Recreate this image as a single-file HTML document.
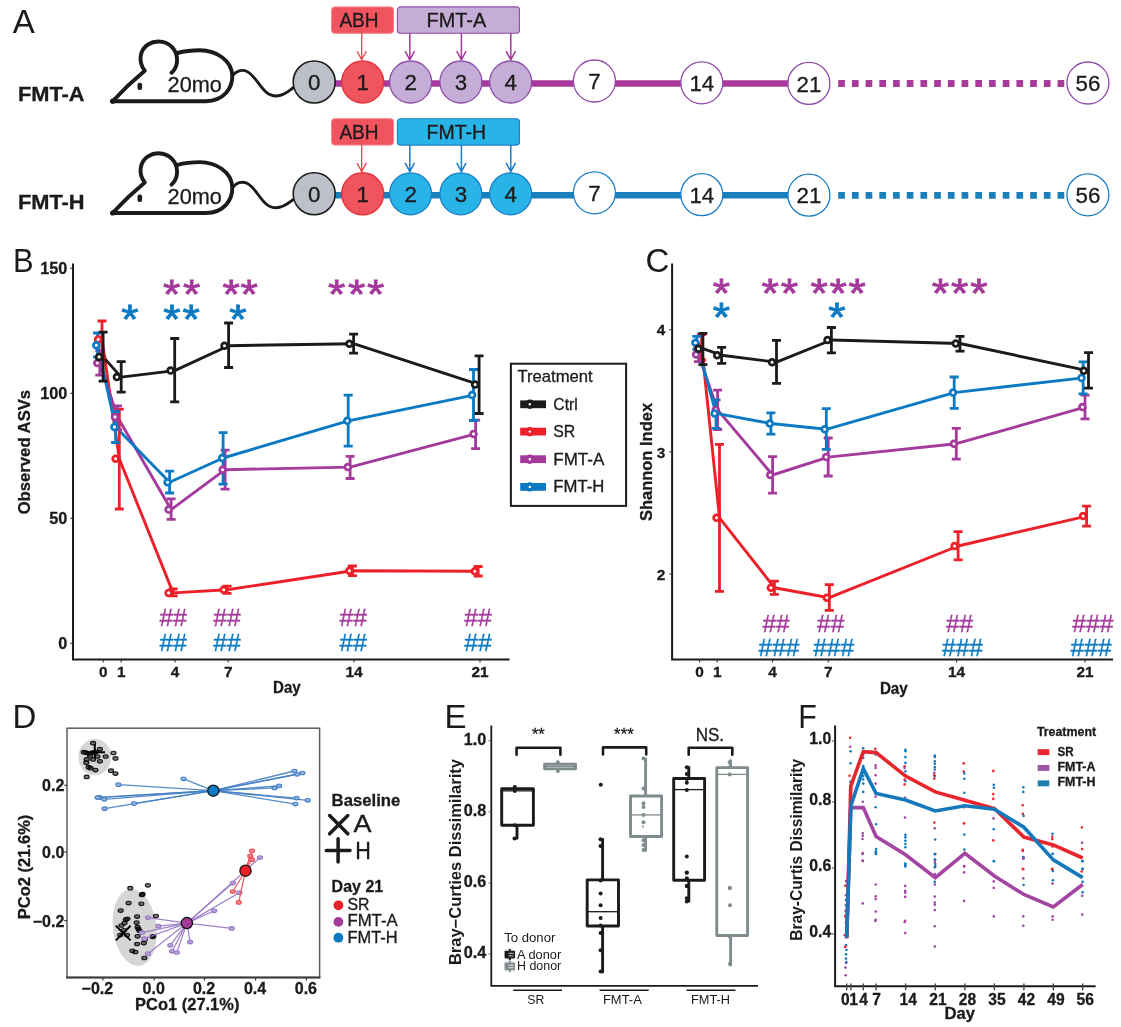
<!DOCTYPE html>
<html><head><meta charset="utf-8"><title>Figure</title>
<style>
html,body{margin:0;padding:0;background:#fff;}
svg{display:block;font-family:"Liberation Sans",sans-serif;}
.pl{stroke:none;}
</style></head><body>
<svg width="1121" height="1027" viewBox="0 0 1121 1027">
<rect width="1121" height="1027" fill="#fff"/>
<g id="panelA">
<text x="12.8" y="32.8" font-size="33" fill="#1c1a1b" class="pl">A</text>
<g transform="translate(0,0)">
<text x="17.9" y="100.9" font-size="19.5" fill="#1c1a1b" font-weight="bold" stroke="#1c1a1b" stroke-width="0.3" textLength="66.7" lengthAdjust="spacingAndGlyphs">FMT-A</text>
<g fill="none" stroke="#1c1a1b" stroke-width="3.9" stroke-linecap="round" stroke-linejoin="round">
<path d="M112.6,101.2 L206,101.2 C224,101 232.5,88 232.3,76 C232,60 216,50.5 200,50.3 C191,50.3 183,51.5 177.5,53"/>
<path d="M112.6,101.2 Q128,84.5 144.8,70.7 C138,62 139.5,50 148,44.5 C157,38.8 169,41.5 174.3,50 C179,58 177.5,67.5 171.5,72.8"/>
</g>
<path d="M232.3,76 C236,71 242,69 247,71.5 C258,77 262,96 276,96 C284,96 289,91 293.5,87.5" fill="none" stroke="#1c1a1b" stroke-width="2.9" stroke-linecap="round"/>
<rect x="137.5" y="82.7" width="4.6" height="7.4" rx="2" fill="#1c1a1b"/><circle cx="112.6" cy="101.2" r="2.6" fill="#1c1a1b"/>
<text x="167.6" y="92.4" font-size="22.6" fill="#1c1a1b" stroke="#1c1a1b" stroke-width="0.3" textLength="54.2" lengthAdjust="spacingAndGlyphs">20mo</text>
<line x1="330" y1="83.5" x2="810" y2="83.5" stroke="#a83a9c" stroke-width="6.6"/>
<line x1="838.2" y1="83.5" x2="1066" y2="83.5" stroke="#a83a9c" stroke-width="6.8" stroke-dasharray="6.7 7.01"/>
<rect x="331.6" y="6.9" width="62" height="26.4" rx="3" fill="#ef545f" stroke="#f4858c" stroke-width="1"/>
<rect x="397.4" y="6.9" width="122" height="26.4" rx="3" fill="#c4aed7" stroke="#8d4aa9" stroke-width="1.1"/>
<text x="339.4" y="26.8" font-size="19.3" fill="#1c1a1b" stroke="#1c1a1b" stroke-width="0.3" textLength="39.1" lengthAdjust="spacingAndGlyphs">ABH</text>
<text x="426.6" y="26.8" font-size="19.3" fill="#1c1a1b" stroke="#1c1a1b" stroke-width="0.3" textLength="59.6" lengthAdjust="spacingAndGlyphs">FMT-A</text>
<path d="M361.7,33.6 V59.6 M357.3,51.6 L361.7,59.8 L366.09999999999997,51.6" fill="none" stroke="#ea4650" stroke-width="1.3" stroke-linecap="round" stroke-linejoin="round"/>
<path d="M409.8,33.6 V59.6 M405.40000000000003,51.6 L409.8,59.8 L414.2,51.6" fill="none" stroke="#a43a9b" stroke-width="1.5" stroke-linecap="round" stroke-linejoin="round"/>
<path d="M461.4,33.6 V59.6 M457.0,51.6 L461.4,59.8 L465.79999999999995,51.6" fill="none" stroke="#a43a9b" stroke-width="1.5" stroke-linecap="round" stroke-linejoin="round"/>
<path d="M510.8,33.6 V59.6 M506.40000000000003,51.6 L510.8,59.8 L515.2,51.6" fill="none" stroke="#a43a9b" stroke-width="1.5" stroke-linecap="round" stroke-linejoin="round"/>
<circle cx="314.2" cy="82" r="21" fill="#bcc0c9" stroke="#1c1a1b" stroke-width="1.6"/>
<text x="314.2" y="90.1" font-size="22.3" fill="#1c1a1b" stroke="#1c1a1b" stroke-width="0.3" text-anchor="middle">0</text>
<circle cx="362.7" cy="82" r="21" fill="#ef545f" stroke="#e8323c" stroke-width="1.4"/>
<text x="362.7" y="90.1" font-size="22.3" fill="#1c1a1b" stroke="#1c1a1b" stroke-width="0.3" text-anchor="middle">1</text>
<circle cx="410.6" cy="82" r="21" fill="#c4aed7" stroke="#8d4aa9" stroke-width="1.3"/>
<text x="410.6" y="90.1" font-size="22.3" fill="#1c1a1b" stroke="#1c1a1b" stroke-width="0.3" text-anchor="middle">2</text>
<circle cx="460.9" cy="82" r="21" fill="#c4aed7" stroke="#8d4aa9" stroke-width="1.3"/>
<text x="460.9" y="90.1" font-size="22.3" fill="#1c1a1b" stroke="#1c1a1b" stroke-width="0.3" text-anchor="middle">3</text>
<circle cx="510.7" cy="82" r="21" fill="#c4aed7" stroke="#8d4aa9" stroke-width="1.3"/>
<text x="510.7" y="90.1" font-size="22.3" fill="#1c1a1b" stroke="#1c1a1b" stroke-width="0.3" text-anchor="middle">4</text>
<circle cx="594.4" cy="81" r="21" fill="#fff" stroke="#8d4aa9" stroke-width="1.3"/>
<text x="594.4" y="89.1" font-size="22.3" fill="#1c1a1b" stroke="#1c1a1b" stroke-width="0.3" text-anchor="middle">7</text>
<circle cx="701.8" cy="82.8" r="21" fill="#fff" stroke="#8d4aa9" stroke-width="1.3"/>
<text x="701.8" y="90.9" font-size="22.3" fill="#1c1a1b" stroke="#1c1a1b" stroke-width="0.3" text-anchor="middle">14</text>
<circle cx="808.9" cy="83.4" r="21" fill="#fff" stroke="#8d4aa9" stroke-width="1.3"/>
<text x="808.9" y="91.5" font-size="22.3" fill="#1c1a1b" stroke="#1c1a1b" stroke-width="0.3" text-anchor="middle">21</text>
<circle cx="1087.9" cy="83" r="21" fill="#fff" stroke="#8d4aa9" stroke-width="1.3"/>
<text x="1087.9" y="91.1" font-size="22.3" fill="#1c1a1b" stroke="#1c1a1b" stroke-width="0.3" text-anchor="middle">56</text>
</g>
<g transform="translate(0,111.8)">
<text x="17.9" y="97.7" font-size="19.5" fill="#1c1a1b" font-weight="bold" stroke="#1c1a1b" stroke-width="0.3" textLength="66.7" lengthAdjust="spacingAndGlyphs">FMT-H</text>
<g fill="none" stroke="#1c1a1b" stroke-width="3.9" stroke-linecap="round" stroke-linejoin="round">
<path d="M112.6,101.2 L206,101.2 C224,101 232.5,88 232.3,76 C232,60 216,50.5 200,50.3 C191,50.3 183,51.5 177.5,53"/>
<path d="M112.6,101.2 Q128,84.5 144.8,70.7 C138,62 139.5,50 148,44.5 C157,38.8 169,41.5 174.3,50 C179,58 177.5,67.5 171.5,72.8"/>
</g>
<path d="M232.3,76 C236,71 242,69 247,71.5 C258,77 262,96 276,96 C284,96 289,91 293.5,87.5" fill="none" stroke="#1c1a1b" stroke-width="2.9" stroke-linecap="round"/>
<rect x="137.5" y="82.7" width="4.6" height="7.4" rx="2" fill="#1c1a1b"/><circle cx="112.6" cy="101.2" r="2.6" fill="#1c1a1b"/>
<text x="167.6" y="92.4" font-size="22.6" fill="#1c1a1b" stroke="#1c1a1b" stroke-width="0.3" textLength="54.2" lengthAdjust="spacingAndGlyphs">20mo</text>
<line x1="330" y1="83.5" x2="810" y2="83.5" stroke="#1a80bb" stroke-width="6.6"/>
<line x1="838.2" y1="83.5" x2="1066" y2="83.5" stroke="#1a80bb" stroke-width="6.8" stroke-dasharray="6.7 7.01"/>
<rect x="331.6" y="6.9" width="62" height="26.4" rx="3" fill="#ef545f" stroke="#f4858c" stroke-width="1"/>
<rect x="397.4" y="6.9" width="122" height="26.4" rx="3" fill="#29b4e8" stroke="#1a7dc6" stroke-width="1.1"/>
<text x="339.4" y="26.8" font-size="19.3" fill="#1c1a1b" stroke="#1c1a1b" stroke-width="0.3" textLength="39.1" lengthAdjust="spacingAndGlyphs">ABH</text>
<text x="426.6" y="26.8" font-size="19.3" fill="#1c1a1b" stroke="#1c1a1b" stroke-width="0.3" textLength="59.6" lengthAdjust="spacingAndGlyphs">FMT-H</text>
<path d="M361.7,33.6 V59.6 M357.3,51.6 L361.7,59.8 L366.09999999999997,51.6" fill="none" stroke="#ea4650" stroke-width="1.3" stroke-linecap="round" stroke-linejoin="round"/>
<path d="M409.8,33.6 V59.6 M405.40000000000003,51.6 L409.8,59.8 L414.2,51.6" fill="none" stroke="#1a7dc6" stroke-width="1.5" stroke-linecap="round" stroke-linejoin="round"/>
<path d="M461.4,33.6 V59.6 M457.0,51.6 L461.4,59.8 L465.79999999999995,51.6" fill="none" stroke="#1a7dc6" stroke-width="1.5" stroke-linecap="round" stroke-linejoin="round"/>
<path d="M510.8,33.6 V59.6 M506.40000000000003,51.6 L510.8,59.8 L515.2,51.6" fill="none" stroke="#1a7dc6" stroke-width="1.5" stroke-linecap="round" stroke-linejoin="round"/>
<circle cx="314.2" cy="82" r="21" fill="#bcc0c9" stroke="#1c1a1b" stroke-width="1.6"/>
<text x="314.2" y="90.1" font-size="22.3" fill="#1c1a1b" stroke="#1c1a1b" stroke-width="0.3" text-anchor="middle">0</text>
<circle cx="362.7" cy="82" r="21" fill="#ef545f" stroke="#e8323c" stroke-width="1.4"/>
<text x="362.7" y="90.1" font-size="22.3" fill="#1c1a1b" stroke="#1c1a1b" stroke-width="0.3" text-anchor="middle">1</text>
<circle cx="410.6" cy="82" r="21" fill="#29b4e8" stroke="#1a7dc6" stroke-width="1.3"/>
<text x="410.6" y="90.1" font-size="22.3" fill="#1c1a1b" stroke="#1c1a1b" stroke-width="0.3" text-anchor="middle">2</text>
<circle cx="460.9" cy="82" r="21" fill="#29b4e8" stroke="#1a7dc6" stroke-width="1.3"/>
<text x="460.9" y="90.1" font-size="22.3" fill="#1c1a1b" stroke="#1c1a1b" stroke-width="0.3" text-anchor="middle">3</text>
<circle cx="510.7" cy="82" r="21" fill="#29b4e8" stroke="#1a7dc6" stroke-width="1.3"/>
<text x="510.7" y="90.1" font-size="22.3" fill="#1c1a1b" stroke="#1c1a1b" stroke-width="0.3" text-anchor="middle">4</text>
<circle cx="594.4" cy="81" r="21" fill="#fff" stroke="#1a7dc6" stroke-width="1.3"/>
<text x="594.4" y="89.1" font-size="22.3" fill="#1c1a1b" stroke="#1c1a1b" stroke-width="0.3" text-anchor="middle">7</text>
<circle cx="701.8" cy="82.8" r="21" fill="#fff" stroke="#1a7dc6" stroke-width="1.3"/>
<text x="701.8" y="90.9" font-size="22.3" fill="#1c1a1b" stroke="#1c1a1b" stroke-width="0.3" text-anchor="middle">14</text>
<circle cx="808.9" cy="83.4" r="21" fill="#fff" stroke="#1a7dc6" stroke-width="1.3"/>
<text x="808.9" y="91.5" font-size="22.3" fill="#1c1a1b" stroke="#1c1a1b" stroke-width="0.3" text-anchor="middle">21</text>
<circle cx="1087.9" cy="83" r="21" fill="#fff" stroke="#1a7dc6" stroke-width="1.3"/>
<text x="1087.9" y="91.1" font-size="22.3" fill="#1c1a1b" stroke="#1c1a1b" stroke-width="0.3" text-anchor="middle">56</text>
</g>
</g>
<g id="panelB">
<text x="13.0" y="271.6" font-size="33" fill="#1c1a1b" textLength="20.6" lengthAdjust="spacingAndGlyphs" class="pl">B</text>
<path d="M73,263.5 V659.6 H509.5" fill="none" stroke="#1c1a1b" stroke-width="2"/>
<line x1="70.2" y1="268.3" x2="73" y2="268.3" stroke="#333" stroke-width="1.1"/>
<text x="67.3" y="274.0" font-size="16.2" fill="#1c1a1b" font-weight="bold" stroke="#1c1a1b" stroke-width="0.3" text-anchor="end">150</text>
<line x1="70.2" y1="393.3" x2="73" y2="393.3" stroke="#333" stroke-width="1.1"/>
<text x="67.3" y="399.0" font-size="16.2" fill="#1c1a1b" font-weight="bold" stroke="#1c1a1b" stroke-width="0.3" text-anchor="end">100</text>
<line x1="70.2" y1="518.3" x2="73" y2="518.3" stroke="#333" stroke-width="1.1"/>
<text x="67.3" y="524.0" font-size="16.2" fill="#1c1a1b" font-weight="bold" stroke="#1c1a1b" stroke-width="0.3" text-anchor="end">50</text>
<line x1="70.2" y1="643.3" x2="73" y2="643.3" stroke="#333" stroke-width="1.1"/>
<text x="67.3" y="649.0" font-size="16.2" fill="#1c1a1b" font-weight="bold" stroke="#1c1a1b" stroke-width="0.3" text-anchor="end">0</text>
<line x1="103.2" y1="659.6" x2="103.2" y2="662.6" stroke="#333" stroke-width="1.1"/>
<text x="103.2" y="677.0" font-size="15.4" fill="#1c1a1b" font-weight="bold" stroke="#1c1a1b" stroke-width="0.3" text-anchor="middle">0</text>
<line x1="121.2" y1="659.6" x2="121.2" y2="662.6" stroke="#333" stroke-width="1.1"/>
<text x="121.2" y="677.0" font-size="15.4" fill="#1c1a1b" font-weight="bold" stroke="#1c1a1b" stroke-width="0.3" text-anchor="middle">1</text>
<line x1="175" y1="659.6" x2="175" y2="662.6" stroke="#333" stroke-width="1.1"/>
<text x="175.0" y="677.0" font-size="15.4" fill="#1c1a1b" font-weight="bold" stroke="#1c1a1b" stroke-width="0.3" text-anchor="middle">4</text>
<line x1="228.2" y1="659.6" x2="228.2" y2="662.6" stroke="#333" stroke-width="1.1"/>
<text x="228.2" y="677.0" font-size="15.4" fill="#1c1a1b" font-weight="bold" stroke="#1c1a1b" stroke-width="0.3" text-anchor="middle">7</text>
<line x1="354" y1="659.6" x2="354" y2="662.6" stroke="#333" stroke-width="1.1"/>
<text x="354.0" y="677.0" font-size="15.4" fill="#1c1a1b" font-weight="bold" stroke="#1c1a1b" stroke-width="0.3" text-anchor="middle">14</text>
<line x1="480" y1="659.6" x2="480" y2="662.6" stroke="#333" stroke-width="1.1"/>
<text x="480.0" y="677.0" font-size="15.4" fill="#1c1a1b" font-weight="bold" stroke="#1c1a1b" stroke-width="0.3" text-anchor="middle">21</text>
<text x="273.0" y="693.0" font-size="15.6" fill="#1c1a1b" font-weight="bold" stroke="#1c1a1b" stroke-width="0.3" textLength="27.7" lengthAdjust="spacingAndGlyphs">Day</text>
<text transform="translate(29.6,452.1) rotate(-90)" font-size="16.5" font-weight="bold" fill="#1c1a1b" stroke="#1c1a1b" stroke-width="0.3" text-anchor="middle" textLength="124.5" lengthAdjust="spacingAndGlyphs">Observed ASVs</text>
<path d="M102.0,339.4 L119.3,458.8 L173.1,592.9 L227.0,589.8 L352.4,570.7 L478.2,571.2" fill="none" stroke="#eb2029" stroke-width="2.9" stroke-linejoin="round"/>
<path d="M99.8,363.0 L117.5,416.9 L171.1,509.6 L225.1,469.7 L350.1,467.1 L475.6,433.9" fill="none" stroke="#a43a9b" stroke-width="2.9" stroke-linejoin="round"/>
<path d="M97.6,345.2 L115.6,426.9 L169.6,482.3 L223.1,458.0 L348.2,420.8 L473.5,395.1" fill="none" stroke="#0b7ac2" stroke-width="2.9" stroke-linejoin="round"/>
<path d="M103.1,356.9 L121.2,377.1 L174.7,370.6 L228.6,345.7 L353.6,343.7 L479.1,384.6" fill="none" stroke="#1c1a1b" stroke-width="2.9" stroke-linejoin="round"/>
<path d="M102.0,321.0 V357.8 M97.5,321.0 H106.5 M97.5,357.8 H106.5" stroke="#eb2029" stroke-width="2.8" fill="none"/>
<path d="M119.3,409.1 V509.0 M114.8,409.1 H123.8 M114.8,509.0 H123.8" stroke="#eb2029" stroke-width="2.8" fill="none"/>
<path d="M173.1,589.0 V595.8 M168.6,589.0 H177.6 M168.6,595.8 H177.6" stroke="#eb2029" stroke-width="2.8" fill="none"/>
<path d="M227.0,586.1 V593.3 M222.5,586.1 H231.5 M222.5,593.3 H231.5" stroke="#eb2029" stroke-width="2.8" fill="none"/>
<path d="M352.4,566.0 V575.7 M347.9,566.0 H356.9 M347.9,575.7 H356.9" stroke="#eb2029" stroke-width="2.8" fill="none"/>
<path d="M478.2,566.5 V576.0 M473.7,566.5 H482.7 M473.7,576.0 H482.7" stroke="#eb2029" stroke-width="2.8" fill="none"/>
<path d="M99.8,350.6 V375.2 M95.3,350.6 H104.3 M95.3,375.2 H104.3" stroke="#a43a9b" stroke-width="2.8" fill="none"/>
<path d="M117.5,405.8 V429.6 M113.0,405.8 H122.0 M113.0,429.6 H122.0" stroke="#a43a9b" stroke-width="2.8" fill="none"/>
<path d="M171.1,498.9 V519.3 M166.6,498.9 H175.6 M166.6,519.3 H175.6" stroke="#a43a9b" stroke-width="2.8" fill="none"/>
<path d="M225.1,450.2 V489.1 M220.6,450.2 H229.6 M220.6,489.1 H229.6" stroke="#a43a9b" stroke-width="2.8" fill="none"/>
<path d="M350.1,456.4 V478.5 M345.6,456.4 H354.6 M345.6,478.5 H354.6" stroke="#a43a9b" stroke-width="2.8" fill="none"/>
<path d="M475.6,420.2 V448.6 M471.1,420.2 H480.1 M471.1,448.6 H480.1" stroke="#a43a9b" stroke-width="2.8" fill="none"/>
<path d="M97.6,333.0 V357.0 M93.1,333.0 H102.1 M93.1,357.0 H102.1" stroke="#0b7ac2" stroke-width="2.8" fill="none"/>
<path d="M115.6,411.6 V442.5 M111.1,411.6 H120.1 M111.1,442.5 H120.1" stroke="#0b7ac2" stroke-width="2.8" fill="none"/>
<path d="M169.6,471.2 V493.0 M165.1,471.2 H174.1 M165.1,493.0 H174.1" stroke="#0b7ac2" stroke-width="2.8" fill="none"/>
<path d="M223.1,432.7 V484.2 M218.6,432.7 H227.6 M218.6,484.2 H227.6" stroke="#0b7ac2" stroke-width="2.8" fill="none"/>
<path d="M348.2,395.2 V446.2 M343.7,395.2 H352.7 M343.7,446.2 H352.7" stroke="#0b7ac2" stroke-width="2.8" fill="none"/>
<path d="M473.5,369.5 V420.5 M469.0,369.5 H478.0 M469.0,420.5 H478.0" stroke="#0b7ac2" stroke-width="2.8" fill="none"/>
<path d="M103.1,332.2 V381.2 M98.6,332.2 H107.6 M98.6,381.2 H107.6" stroke="#1c1a1b" stroke-width="2.8" fill="none"/>
<path d="M121.2,361.6 V392.1 M116.7,361.6 H125.7 M116.7,392.1 H125.7" stroke="#1c1a1b" stroke-width="2.8" fill="none"/>
<path d="M174.7,338.5 V401.8 M170.2,338.5 H179.2 M170.2,401.8 H179.2" stroke="#1c1a1b" stroke-width="2.8" fill="none"/>
<path d="M228.6,323.0 V367.5 M224.1,323.0 H233.1 M224.1,367.5 H233.1" stroke="#1c1a1b" stroke-width="2.8" fill="none"/>
<path d="M353.6,334.2 V353.2 M349.1,334.2 H358.1 M349.1,353.2 H358.1" stroke="#1c1a1b" stroke-width="2.8" fill="none"/>
<path d="M479.1,355.9 V413.5 M474.6,355.9 H483.6 M474.6,413.5 H483.6" stroke="#1c1a1b" stroke-width="2.8" fill="none"/>
<circle cx="98.1" cy="339.4" r="2.9" fill="#fff" stroke="#eb2029" stroke-width="2.7"/>
<circle cx="115.6" cy="458.8" r="2.9" fill="#fff" stroke="#eb2029" stroke-width="2.7"/>
<circle cx="168.6" cy="592.9" r="2.9" fill="#fff" stroke="#eb2029" stroke-width="2.7"/>
<circle cx="223.7" cy="589.8" r="2.9" fill="#fff" stroke="#eb2029" stroke-width="2.7"/>
<circle cx="349.4" cy="570.7" r="2.9" fill="#fff" stroke="#eb2029" stroke-width="2.7"/>
<circle cx="474.8" cy="571.2" r="2.9" fill="#fff" stroke="#eb2029" stroke-width="2.7"/>
<circle cx="97.3" cy="363.0" r="2.9" fill="#fff" stroke="#a43a9b" stroke-width="2.7"/>
<circle cx="115.0" cy="416.9" r="2.9" fill="#fff" stroke="#a43a9b" stroke-width="2.7"/>
<circle cx="168.6" cy="509.6" r="2.9" fill="#fff" stroke="#a43a9b" stroke-width="2.7"/>
<circle cx="222.6" cy="469.7" r="2.9" fill="#fff" stroke="#a43a9b" stroke-width="2.7"/>
<circle cx="347.8" cy="467.1" r="2.9" fill="#fff" stroke="#a43a9b" stroke-width="2.7"/>
<circle cx="473.5" cy="433.9" r="2.9" fill="#fff" stroke="#a43a9b" stroke-width="2.7"/>
<circle cx="96.3" cy="345.2" r="2.9" fill="#fff" stroke="#0b7ac2" stroke-width="2.7"/>
<circle cx="114.4" cy="426.9" r="2.9" fill="#fff" stroke="#0b7ac2" stroke-width="2.7"/>
<circle cx="167.6" cy="482.3" r="2.9" fill="#fff" stroke="#0b7ac2" stroke-width="2.7"/>
<circle cx="222.2" cy="458.0" r="2.9" fill="#fff" stroke="#0b7ac2" stroke-width="2.7"/>
<circle cx="347.3" cy="420.8" r="2.9" fill="#fff" stroke="#0b7ac2" stroke-width="2.7"/>
<circle cx="472.1" cy="395.1" r="2.9" fill="#fff" stroke="#0b7ac2" stroke-width="2.7"/>
<circle cx="99.1" cy="356.9" r="2.9" fill="#fff" stroke="#1c1a1b" stroke-width="2.7"/>
<circle cx="116.9" cy="377.1" r="2.9" fill="#fff" stroke="#1c1a1b" stroke-width="2.7"/>
<circle cx="170.6" cy="370.6" r="2.9" fill="#fff" stroke="#1c1a1b" stroke-width="2.7"/>
<circle cx="224.5" cy="345.7" r="2.9" fill="#fff" stroke="#1c1a1b" stroke-width="2.7"/>
<circle cx="349.4" cy="343.7" r="2.9" fill="#fff" stroke="#1c1a1b" stroke-width="2.7"/>
<circle cx="475.1" cy="384.6" r="2.9" fill="#fff" stroke="#1c1a1b" stroke-width="2.7"/>
<text x="173.2" y="626.2" font-size="24.2" fill="#a43a9b" stroke="#a43a9b" stroke-width="0.3" text-anchor="middle" textLength="27.5" lengthAdjust="spacingAndGlyphs">##</text>
<text x="173.2" y="650.7" font-size="24.2" fill="#0b7ac2" stroke="#0b7ac2" stroke-width="0.3" text-anchor="middle" textLength="27.5" lengthAdjust="spacingAndGlyphs">##</text>
<text x="227.0" y="626.2" font-size="24.2" fill="#a43a9b" stroke="#a43a9b" stroke-width="0.3" text-anchor="middle" textLength="27.5" lengthAdjust="spacingAndGlyphs">##</text>
<text x="227.0" y="650.7" font-size="24.2" fill="#0b7ac2" stroke="#0b7ac2" stroke-width="0.3" text-anchor="middle" textLength="27.5" lengthAdjust="spacingAndGlyphs">##</text>
<text x="353.2" y="626.2" font-size="24.2" fill="#a43a9b" stroke="#a43a9b" stroke-width="0.3" text-anchor="middle" textLength="27.5" lengthAdjust="spacingAndGlyphs">##</text>
<text x="353.2" y="650.7" font-size="24.2" fill="#0b7ac2" stroke="#0b7ac2" stroke-width="0.3" text-anchor="middle" textLength="27.5" lengthAdjust="spacingAndGlyphs">##</text>
<text x="478.0" y="626.2" font-size="24.2" fill="#a43a9b" stroke="#a43a9b" stroke-width="0.3" text-anchor="middle" textLength="27.5" lengthAdjust="spacingAndGlyphs">##</text>
<text x="478.0" y="650.7" font-size="24.2" fill="#0b7ac2" stroke="#0b7ac2" stroke-width="0.3" text-anchor="middle" textLength="27.5" lengthAdjust="spacingAndGlyphs">##</text>
</g>
<g id="legend">
<rect x="510.9" y="363.7" width="115.2" height="142.2" fill="#fff" stroke="#1c1a1b" stroke-width="2"/>
<text x="517.4" y="381.9" font-size="16.2" fill="#1c1a1b" stroke="#1c1a1b" stroke-width="0.3" textLength="75.3" lengthAdjust="spacingAndGlyphs">Treatment</text>
<line x1="520.2" y1="404.3" x2="546" y2="404.3" stroke="#1c1a1b" stroke-width="7.8"/>
<circle cx="529.8" cy="404.3" r="4.7" fill="#1c1a1b"/><circle cx="529.8" cy="404.3" r="1.2" fill="#fff"/>
<text x="553.3" y="409.6" font-size="16.2" fill="#1c1a1b" stroke="#1c1a1b" stroke-width="0.3" textLength="24.5" lengthAdjust="spacingAndGlyphs">Ctrl</text>
<line x1="520.2" y1="431.6" x2="546" y2="431.6" stroke="#eb2029" stroke-width="7.8"/>
<circle cx="529.8" cy="431.6" r="4.7" fill="#eb2029"/><circle cx="529.8" cy="431.6" r="1.2" fill="#fff"/>
<text x="553.3" y="436.5" font-size="16.2" fill="#1c1a1b" stroke="#1c1a1b" stroke-width="0.3" textLength="22" lengthAdjust="spacingAndGlyphs">SR</text>
<line x1="520.2" y1="459.2" x2="546" y2="459.2" stroke="#a43a9b" stroke-width="7.8"/>
<circle cx="529.8" cy="459.2" r="4.7" fill="#a43a9b"/><circle cx="529.8" cy="459.2" r="1.2" fill="#fff"/>
<text x="553.3" y="464.5" font-size="16.2" fill="#1c1a1b" stroke="#1c1a1b" stroke-width="0.3" textLength="51" lengthAdjust="spacingAndGlyphs">FMT-A</text>
<line x1="520.2" y1="486.9" x2="546" y2="486.9" stroke="#0b7ac2" stroke-width="7.8"/>
<circle cx="529.8" cy="486.9" r="4.7" fill="#0b7ac2"/><circle cx="529.8" cy="486.9" r="1.2" fill="#fff"/>
<text x="553.3" y="491.8" font-size="16.2" fill="#1c1a1b" stroke="#1c1a1b" stroke-width="0.3" textLength="51" lengthAdjust="spacingAndGlyphs">FMT-H</text>
</g>
<g id="panelC">
<text x="645.5" y="272.0" font-size="33" fill="#1c1a1b" class="pl">C</text>
<path d="M672.1,263.4 V659.5 H1113" fill="none" stroke="#1c1a1b" stroke-width="2"/>
<line x1="669.3" y1="329.7" x2="672.1" y2="329.7" stroke="#333" stroke-width="1.1"/>
<text x="665.3" y="335.3" font-size="15.4" fill="#1c1a1b" font-weight="bold" stroke="#1c1a1b" stroke-width="0.3" text-anchor="end">4</text>
<line x1="669.3" y1="451.9" x2="672.1" y2="451.9" stroke="#333" stroke-width="1.1"/>
<text x="665.3" y="457.5" font-size="15.4" fill="#1c1a1b" font-weight="bold" stroke="#1c1a1b" stroke-width="0.3" text-anchor="end">3</text>
<line x1="669.3" y1="574" x2="672.1" y2="574" stroke="#333" stroke-width="1.1"/>
<text x="665.3" y="579.6" font-size="15.4" fill="#1c1a1b" font-weight="bold" stroke="#1c1a1b" stroke-width="0.3" text-anchor="end">2</text>
<line x1="699.6" y1="659.5" x2="699.6" y2="662.5" stroke="#333" stroke-width="1.1"/>
<text x="699.6" y="676.6" font-size="15.4" fill="#1c1a1b" font-weight="bold" stroke="#1c1a1b" stroke-width="0.3" text-anchor="middle">0</text>
<line x1="717.2" y1="659.5" x2="717.2" y2="662.5" stroke="#333" stroke-width="1.1"/>
<text x="717.2" y="676.6" font-size="15.4" fill="#1c1a1b" font-weight="bold" stroke="#1c1a1b" stroke-width="0.3" text-anchor="middle">1</text>
<line x1="772.6" y1="659.5" x2="772.6" y2="662.5" stroke="#333" stroke-width="1.1"/>
<text x="772.6" y="676.6" font-size="15.4" fill="#1c1a1b" font-weight="bold" stroke="#1c1a1b" stroke-width="0.3" text-anchor="middle">4</text>
<line x1="828.2" y1="659.5" x2="828.2" y2="662.5" stroke="#333" stroke-width="1.1"/>
<text x="828.2" y="676.6" font-size="15.4" fill="#1c1a1b" font-weight="bold" stroke="#1c1a1b" stroke-width="0.3" text-anchor="middle">7</text>
<line x1="956.6" y1="659.5" x2="956.6" y2="662.5" stroke="#333" stroke-width="1.1"/>
<text x="956.6" y="676.6" font-size="15.4" fill="#1c1a1b" font-weight="bold" stroke="#1c1a1b" stroke-width="0.3" text-anchor="middle">14</text>
<line x1="1085" y1="659.5" x2="1085" y2="662.5" stroke="#333" stroke-width="1.1"/>
<text x="1085.0" y="676.6" font-size="15.4" fill="#1c1a1b" font-weight="bold" stroke="#1c1a1b" stroke-width="0.3" text-anchor="middle">21</text>
<text x="879.9" y="693.5" font-size="15.6" fill="#1c1a1b" font-weight="bold" stroke="#1c1a1b" stroke-width="0.3" textLength="27.9" lengthAdjust="spacingAndGlyphs">Day</text>
<text transform="translate(652.2,462) rotate(-90)" font-size="16.4" font-weight="bold" fill="#1c1a1b" stroke="#1c1a1b" stroke-width="0.3" text-anchor="middle" textLength="118.2" lengthAdjust="spacingAndGlyphs">Shannon Index</text>
<path d="M701.6,346.0 L719.5,517.8 L774.4,587.7 L829.3,597.7 L958.1,546.0 L1086.6,516.1" fill="none" stroke="#eb2029" stroke-width="2.9" stroke-linejoin="round"/>
<path d="M698.4,354.5 L717.6,409.9 L772.6,475.0 L828.2,457.1 L956.3,443.7 L1085.0,407.1" fill="none" stroke="#a43a9b" stroke-width="2.9" stroke-linejoin="round"/>
<path d="M696.8,342.8 L716.0,413.4 L770.9,423.5 L826.3,429.3 L954.2,392.6 L1083.1,377.9" fill="none" stroke="#0b7ac2" stroke-width="2.9" stroke-linejoin="round"/>
<path d="M702.9,348.7 L721.6,355.2 L776.5,362.2 L831.4,340.0 L960.0,343.5 L1088.5,370.8" fill="none" stroke="#1c1a1b" stroke-width="2.9" stroke-linejoin="round"/>
<path d="M701.6,334.5 V360.0 M697.1,334.5 H706.1 M697.1,360.0 H706.1" stroke="#eb2029" stroke-width="2.8" fill="none"/>
<path d="M719.5,444.3 V591.4 M715.0,444.3 H724.0 M715.0,591.4 H724.0" stroke="#eb2029" stroke-width="2.8" fill="none"/>
<path d="M774.4,581.2 V594.4 M769.9,581.2 H778.9 M769.9,594.4 H778.9" stroke="#eb2029" stroke-width="2.8" fill="none"/>
<path d="M829.3,584.7 V610.3 M824.8,584.7 H833.8 M824.8,610.3 H833.8" stroke="#eb2029" stroke-width="2.8" fill="none"/>
<path d="M958.1,531.6 V559.9 M953.6,531.6 H962.6 M953.6,559.9 H962.6" stroke="#eb2029" stroke-width="2.8" fill="none"/>
<path d="M1086.6,506.1 V526.1 M1082.1,506.1 H1091.1 M1082.1,526.1 H1091.1" stroke="#eb2029" stroke-width="2.8" fill="none"/>
<path d="M698.4,347.0 V361.7 M693.9,347.0 H702.9 M693.9,361.7 H702.9" stroke="#a43a9b" stroke-width="2.8" fill="none"/>
<path d="M717.6,390.1 V429.5 M713.1,390.1 H722.1 M713.1,429.5 H722.1" stroke="#a43a9b" stroke-width="2.8" fill="none"/>
<path d="M772.6,456.6 V493.2 M768.1,456.6 H777.1 M768.1,493.2 H777.1" stroke="#a43a9b" stroke-width="2.8" fill="none"/>
<path d="M828.2,438.0 V476.0 M823.7,438.0 H832.7 M823.7,476.0 H832.7" stroke="#a43a9b" stroke-width="2.8" fill="none"/>
<path d="M956.3,428.4 V459.1 M951.8,428.4 H960.8 M951.8,459.1 H960.8" stroke="#a43a9b" stroke-width="2.8" fill="none"/>
<path d="M1085.0,395.2 V418.9 M1080.5,395.2 H1089.5 M1080.5,418.9 H1089.5" stroke="#a43a9b" stroke-width="2.8" fill="none"/>
<path d="M696.8,336.3 V349.3 M692.3,336.3 H701.3 M692.3,349.3 H701.3" stroke="#0b7ac2" stroke-width="2.8" fill="none"/>
<path d="M716.0,399.9 V428.3 M711.5,399.9 H720.5 M711.5,428.3 H720.5" stroke="#0b7ac2" stroke-width="2.8" fill="none"/>
<path d="M770.9,412.8 V434.1 M766.4,412.8 H775.4 M766.4,434.1 H775.4" stroke="#0b7ac2" stroke-width="2.8" fill="none"/>
<path d="M826.3,408.6 V449.3 M821.8,408.6 H830.8 M821.8,449.3 H830.8" stroke="#0b7ac2" stroke-width="2.8" fill="none"/>
<path d="M954.2,377.0 V408.4 M949.7,377.0 H958.7 M949.7,408.4 H958.7" stroke="#0b7ac2" stroke-width="2.8" fill="none"/>
<path d="M1083.1,361.8 V393.9 M1078.6,361.8 H1087.6 M1078.6,393.9 H1087.6" stroke="#0b7ac2" stroke-width="2.8" fill="none"/>
<path d="M702.9,333.3 V364.7 M698.4,333.3 H707.4 M698.4,364.7 H707.4" stroke="#1c1a1b" stroke-width="2.8" fill="none"/>
<path d="M721.6,347.3 V363.3 M717.1,347.3 H726.1 M717.1,363.3 H726.1" stroke="#1c1a1b" stroke-width="2.8" fill="none"/>
<path d="M776.5,340.3 V383.4 M772.0,340.3 H781.0 M772.0,383.4 H781.0" stroke="#1c1a1b" stroke-width="2.8" fill="none"/>
<path d="M831.4,327.5 V352.8 M826.9,327.5 H835.9 M826.9,352.8 H835.9" stroke="#1c1a1b" stroke-width="2.8" fill="none"/>
<path d="M960.0,336.3 V351.1 M955.5,336.3 H964.5 M955.5,351.1 H964.5" stroke="#1c1a1b" stroke-width="2.8" fill="none"/>
<path d="M1088.5,352.7 V388.1 M1084.0,352.7 H1093.0 M1084.0,388.1 H1093.0" stroke="#1c1a1b" stroke-width="2.8" fill="none"/>
<circle cx="697.6" cy="346.0" r="2.9" fill="#fff" stroke="#eb2029" stroke-width="2.7"/>
<circle cx="716.5" cy="517.8" r="2.9" fill="#fff" stroke="#eb2029" stroke-width="2.7"/>
<circle cx="770.9" cy="587.7" r="2.9" fill="#fff" stroke="#eb2029" stroke-width="2.7"/>
<circle cx="826.8" cy="597.7" r="2.9" fill="#fff" stroke="#eb2029" stroke-width="2.7"/>
<circle cx="954.6" cy="546.0" r="2.9" fill="#fff" stroke="#eb2029" stroke-width="2.7"/>
<circle cx="1083.1" cy="516.1" r="2.9" fill="#fff" stroke="#eb2029" stroke-width="2.7"/>
<circle cx="696.1" cy="354.5" r="2.9" fill="#fff" stroke="#a43a9b" stroke-width="2.7"/>
<circle cx="715.8" cy="409.9" r="2.9" fill="#fff" stroke="#a43a9b" stroke-width="2.7"/>
<circle cx="770.2" cy="475.0" r="2.9" fill="#fff" stroke="#a43a9b" stroke-width="2.7"/>
<circle cx="826.1" cy="457.1" r="2.9" fill="#fff" stroke="#a43a9b" stroke-width="2.7"/>
<circle cx="953.9" cy="443.7" r="2.9" fill="#fff" stroke="#a43a9b" stroke-width="2.7"/>
<circle cx="1082.4" cy="407.1" r="2.9" fill="#fff" stroke="#a43a9b" stroke-width="2.7"/>
<circle cx="695.4" cy="342.8" r="2.9" fill="#fff" stroke="#0b7ac2" stroke-width="2.7"/>
<circle cx="714.6" cy="413.4" r="2.9" fill="#fff" stroke="#0b7ac2" stroke-width="2.7"/>
<circle cx="769.8" cy="423.5" r="2.9" fill="#fff" stroke="#0b7ac2" stroke-width="2.7"/>
<circle cx="824.7" cy="429.3" r="2.9" fill="#fff" stroke="#0b7ac2" stroke-width="2.7"/>
<circle cx="953.0" cy="392.6" r="2.9" fill="#fff" stroke="#0b7ac2" stroke-width="2.7"/>
<circle cx="1081.5" cy="377.9" r="2.9" fill="#fff" stroke="#0b7ac2" stroke-width="2.7"/>
<circle cx="698.5" cy="348.7" r="2.9" fill="#fff" stroke="#1c1a1b" stroke-width="2.7"/>
<circle cx="717.2" cy="355.2" r="2.9" fill="#fff" stroke="#1c1a1b" stroke-width="2.7"/>
<circle cx="772.1" cy="362.2" r="2.9" fill="#fff" stroke="#1c1a1b" stroke-width="2.7"/>
<circle cx="827.5" cy="340.0" r="2.9" fill="#fff" stroke="#1c1a1b" stroke-width="2.7"/>
<circle cx="955.8" cy="343.5" r="2.9" fill="#fff" stroke="#1c1a1b" stroke-width="2.7"/>
<circle cx="1083.8" cy="370.8" r="2.9" fill="#fff" stroke="#1c1a1b" stroke-width="2.7"/>
<text x="776.0" y="631.9" font-size="23.3" fill="#a43a9b" stroke="#a43a9b" stroke-width="0.3" text-anchor="middle" textLength="27.2" lengthAdjust="spacingAndGlyphs">##</text>
<text x="779.0" y="656.0" font-size="23.3" fill="#0b7ac2" stroke="#0b7ac2" stroke-width="0.3" text-anchor="middle" textLength="41" lengthAdjust="spacingAndGlyphs">###</text>
<text x="830.7" y="631.9" font-size="23.3" fill="#a43a9b" stroke="#a43a9b" stroke-width="0.3" text-anchor="middle" textLength="27.2" lengthAdjust="spacingAndGlyphs">##</text>
<text x="833.7" y="656.0" font-size="23.3" fill="#0b7ac2" stroke="#0b7ac2" stroke-width="0.3" text-anchor="middle" textLength="41" lengthAdjust="spacingAndGlyphs">###</text>
<text x="959.5" y="631.9" font-size="23.3" fill="#a43a9b" stroke="#a43a9b" stroke-width="0.3" text-anchor="middle" textLength="27.2" lengthAdjust="spacingAndGlyphs">##</text>
<text x="962.5" y="656.0" font-size="23.3" fill="#0b7ac2" stroke="#0b7ac2" stroke-width="0.3" text-anchor="middle" textLength="41" lengthAdjust="spacingAndGlyphs">###</text>
<text x="1092.8" y="631.9" font-size="23.3" fill="#a43a9b" stroke="#a43a9b" stroke-width="0.3" text-anchor="middle" textLength="41.2" lengthAdjust="spacingAndGlyphs">###</text>
<text x="1091.1" y="656.0" font-size="23.3" fill="#0b7ac2" stroke="#0b7ac2" stroke-width="0.3" text-anchor="middle" textLength="41" lengthAdjust="spacingAndGlyphs">###</text>
</g>
<text transform="translate(171.7,286.8) scale(1,0.91)" y="23.2" font-size="44.5" fill="#a43a9b" stroke="#a43a9b" stroke-width="0.9" text-anchor="middle">*</text>
<text transform="translate(191.7,286.8) scale(1,0.91)" y="23.2" font-size="44.5" fill="#a43a9b" stroke="#a43a9b" stroke-width="0.9" text-anchor="middle">*</text>
<text transform="translate(231.1,286.8) scale(1,0.91)" y="23.2" font-size="44.5" fill="#a43a9b" stroke="#a43a9b" stroke-width="0.9" text-anchor="middle">*</text>
<text transform="translate(249.1,286.8) scale(1,0.91)" y="23.2" font-size="44.5" fill="#a43a9b" stroke="#a43a9b" stroke-width="0.9" text-anchor="middle">*</text>
<text transform="translate(336.7,286.8) scale(1,0.91)" y="23.2" font-size="44.5" fill="#a43a9b" stroke="#a43a9b" stroke-width="0.9" text-anchor="middle">*</text>
<text transform="translate(356.6,286.8) scale(1,0.91)" y="23.2" font-size="44.5" fill="#a43a9b" stroke="#a43a9b" stroke-width="0.9" text-anchor="middle">*</text>
<text transform="translate(375.7,286.8) scale(1,0.91)" y="23.2" font-size="44.5" fill="#a43a9b" stroke="#a43a9b" stroke-width="0.9" text-anchor="middle">*</text>
<text transform="translate(130.0,311.8) scale(1,0.91)" y="23.2" font-size="44.5" fill="#0b7ac2" stroke="#0b7ac2" stroke-width="0.9" text-anchor="middle">*</text>
<text transform="translate(171.8,311.8) scale(1,0.91)" y="23.2" font-size="44.5" fill="#0b7ac2" stroke="#0b7ac2" stroke-width="0.9" text-anchor="middle">*</text>
<text transform="translate(191.1,311.8) scale(1,0.91)" y="23.2" font-size="44.5" fill="#0b7ac2" stroke="#0b7ac2" stroke-width="0.9" text-anchor="middle">*</text>
<text transform="translate(237.9,311.8) scale(1,0.91)" y="23.2" font-size="44.5" fill="#0b7ac2" stroke="#0b7ac2" stroke-width="0.9" text-anchor="middle">*</text>
<text transform="translate(721.3,285.9) scale(1,0.91)" y="23.2" font-size="44.5" fill="#a43a9b" stroke="#a43a9b" stroke-width="0.9" text-anchor="middle">*</text>
<text transform="translate(770.2,285.9) scale(1,0.91)" y="23.2" font-size="44.5" fill="#a43a9b" stroke="#a43a9b" stroke-width="0.9" text-anchor="middle">*</text>
<text transform="translate(789.5,285.9) scale(1,0.91)" y="23.2" font-size="44.5" fill="#a43a9b" stroke="#a43a9b" stroke-width="0.9" text-anchor="middle">*</text>
<text transform="translate(819.1,285.9) scale(1,0.91)" y="23.2" font-size="44.5" fill="#a43a9b" stroke="#a43a9b" stroke-width="0.9" text-anchor="middle">*</text>
<text transform="translate(838.1,285.9) scale(1,0.91)" y="23.2" font-size="44.5" fill="#a43a9b" stroke="#a43a9b" stroke-width="0.9" text-anchor="middle">*</text>
<text transform="translate(857.1,285.9) scale(1,0.91)" y="23.2" font-size="44.5" fill="#a43a9b" stroke="#a43a9b" stroke-width="0.9" text-anchor="middle">*</text>
<text transform="translate(940.4,285.9) scale(1,0.91)" y="23.2" font-size="44.5" fill="#a43a9b" stroke="#a43a9b" stroke-width="0.9" text-anchor="middle">*</text>
<text transform="translate(959.6,285.9) scale(1,0.91)" y="23.2" font-size="44.5" fill="#a43a9b" stroke="#a43a9b" stroke-width="0.9" text-anchor="middle">*</text>
<text transform="translate(978.9,285.9) scale(1,0.91)" y="23.2" font-size="44.5" fill="#a43a9b" stroke="#a43a9b" stroke-width="0.9" text-anchor="middle">*</text>
<text transform="translate(721.3,309.8) scale(1,0.91)" y="23.2" font-size="44.5" fill="#0b7ac2" stroke="#0b7ac2" stroke-width="0.9" text-anchor="middle">*</text>
<text transform="translate(836.9,309.8) scale(1,0.91)" y="23.2" font-size="44.5" fill="#0b7ac2" stroke="#0b7ac2" stroke-width="0.9" text-anchor="middle">*</text>
<g id="panelD">
<text x="12.6" y="727.5" font-size="33" fill="#1c1a1b" class="pl">D</text>
<ellipse cx="94.8" cy="757.1" rx="16.4" ry="18.2" fill="#d6d6d6"/>
<ellipse cx="134.7" cy="927.5" rx="21.8" ry="38.6" fill="#d6d6d6" transform="rotate(-7 134.7 927.5)"/>
<ellipse cx="93.1" cy="743.2" rx="2.55" ry="1.8" fill="rgba(0,0,0,0.5)" stroke="rgba(0,0,0,0.9)" stroke-width="1.1"/>
<ellipse cx="99.9" cy="749.1" rx="2.55" ry="1.8" fill="rgba(0,0,0,0.5)" stroke="rgba(0,0,0,0.9)" stroke-width="1.1"/>
<ellipse cx="85.7" cy="752.6" rx="2.55" ry="1.8" fill="rgba(0,0,0,0.5)" stroke="rgba(0,0,0,0.9)" stroke-width="1.1"/>
<ellipse cx="88.6" cy="753.6" rx="2.55" ry="1.8" fill="rgba(0,0,0,0.5)" stroke="rgba(0,0,0,0.9)" stroke-width="1.1"/>
<ellipse cx="92.5" cy="752.6" rx="2.55" ry="1.8" fill="rgba(0,0,0,0.5)" stroke="rgba(0,0,0,0.9)" stroke-width="1.1"/>
<ellipse cx="95.4" cy="752.2" rx="2.55" ry="1.8" fill="rgba(0,0,0,0.5)" stroke="rgba(0,0,0,0.9)" stroke-width="1.1"/>
<ellipse cx="113.5" cy="753.0" rx="2.55" ry="1.8" fill="rgba(0,0,0,0.5)" stroke="rgba(0,0,0,0.9)" stroke-width="1.1"/>
<ellipse cx="105.7" cy="756.5" rx="2.55" ry="1.8" fill="rgba(0,0,0,0.5)" stroke="rgba(0,0,0,0.9)" stroke-width="1.1"/>
<ellipse cx="115.5" cy="758.4" rx="2.55" ry="1.8" fill="rgba(0,0,0,0.5)" stroke="rgba(0,0,0,0.9)" stroke-width="1.1"/>
<ellipse cx="86.7" cy="759.4" rx="2.55" ry="1.8" fill="rgba(0,0,0,0.5)" stroke="rgba(0,0,0,0.9)" stroke-width="1.1"/>
<ellipse cx="93.1" cy="759.4" rx="2.55" ry="1.8" fill="rgba(0,0,0,0.5)" stroke="rgba(0,0,0,0.9)" stroke-width="1.1"/>
<ellipse cx="99.9" cy="761.3" rx="2.55" ry="1.8" fill="rgba(0,0,0,0.5)" stroke="rgba(0,0,0,0.9)" stroke-width="1.1"/>
<ellipse cx="86.3" cy="762.7" rx="2.55" ry="1.8" fill="rgba(0,0,0,0.5)" stroke="rgba(0,0,0,0.9)" stroke-width="1.1"/>
<ellipse cx="88.6" cy="767.2" rx="2.55" ry="1.8" fill="rgba(0,0,0,0.5)" stroke="rgba(0,0,0,0.9)" stroke-width="1.1"/>
<ellipse cx="90.6" cy="768.2" rx="2.55" ry="1.8" fill="rgba(0,0,0,0.5)" stroke="rgba(0,0,0,0.9)" stroke-width="1.1"/>
<ellipse cx="95.4" cy="770.1" rx="2.55" ry="1.8" fill="rgba(0,0,0,0.5)" stroke="rgba(0,0,0,0.9)" stroke-width="1.1"/>
<ellipse cx="111.0" cy="770.7" rx="2.55" ry="1.8" fill="rgba(0,0,0,0.5)" stroke="rgba(0,0,0,0.9)" stroke-width="1.1"/>
<ellipse cx="115.5" cy="773.6" rx="2.55" ry="1.8" fill="rgba(0,0,0,0.5)" stroke="rgba(0,0,0,0.9)" stroke-width="1.1"/>
<ellipse cx="86.7" cy="776.9" rx="2.55" ry="1.8" fill="rgba(0,0,0,0.5)" stroke="rgba(0,0,0,0.9)" stroke-width="1.1"/>
<ellipse cx="83.7" cy="752.2" rx="2.55" ry="1.8" fill="rgba(0,0,0,0.5)" stroke="rgba(0,0,0,0.9)" stroke-width="1.1"/>
<ellipse cx="90.0" cy="755.5" rx="2.55" ry="1.8" fill="rgba(0,0,0,0.5)" stroke="rgba(0,0,0,0.9)" stroke-width="1.1"/>
<ellipse cx="97.4" cy="756.5" rx="2.55" ry="1.8" fill="rgba(0,0,0,0.5)" stroke="rgba(0,0,0,0.9)" stroke-width="1.1"/>
<ellipse cx="130.3" cy="888.2" rx="2.55" ry="1.8" fill="rgba(0,0,0,0.5)" stroke="rgba(0,0,0,0.9)" stroke-width="1.1"/>
<ellipse cx="147.9" cy="885.3" rx="2.55" ry="1.8" fill="rgba(0,0,0,0.5)" stroke="rgba(0,0,0,0.9)" stroke-width="1.1"/>
<ellipse cx="142.6" cy="894.2" rx="2.55" ry="1.8" fill="rgba(0,0,0,0.5)" stroke="rgba(0,0,0,0.9)" stroke-width="1.1"/>
<ellipse cx="128.6" cy="903.1" rx="2.55" ry="1.8" fill="rgba(0,0,0,0.5)" stroke="rgba(0,0,0,0.9)" stroke-width="1.1"/>
<ellipse cx="141.4" cy="903.8" rx="2.55" ry="1.8" fill="rgba(0,0,0,0.5)" stroke="rgba(0,0,0,0.9)" stroke-width="1.1"/>
<ellipse cx="120.7" cy="910.6" rx="2.55" ry="1.8" fill="rgba(0,0,0,0.5)" stroke="rgba(0,0,0,0.9)" stroke-width="1.1"/>
<ellipse cx="137.1" cy="916.6" rx="2.55" ry="1.8" fill="rgba(0,0,0,0.5)" stroke="rgba(0,0,0,0.9)" stroke-width="1.1"/>
<ellipse cx="155.9" cy="916.1" rx="2.55" ry="1.8" fill="rgba(0,0,0,0.5)" stroke="rgba(0,0,0,0.9)" stroke-width="1.1"/>
<ellipse cx="127.4" cy="918.8" rx="2.55" ry="1.8" fill="rgba(0,0,0,0.5)" stroke="rgba(0,0,0,0.9)" stroke-width="1.1"/>
<ellipse cx="124.5" cy="923.1" rx="2.55" ry="1.8" fill="rgba(0,0,0,0.5)" stroke="rgba(0,0,0,0.9)" stroke-width="1.1"/>
<ellipse cx="136.6" cy="922.6" rx="2.55" ry="1.8" fill="rgba(0,0,0,0.5)" stroke="rgba(0,0,0,0.9)" stroke-width="1.1"/>
<ellipse cx="121.4" cy="925.5" rx="2.55" ry="1.8" fill="rgba(0,0,0,0.5)" stroke="rgba(0,0,0,0.9)" stroke-width="1.1"/>
<ellipse cx="137.6" cy="927.2" rx="2.55" ry="1.8" fill="rgba(0,0,0,0.5)" stroke="rgba(0,0,0,0.9)" stroke-width="1.1"/>
<ellipse cx="123.8" cy="930.3" rx="2.55" ry="1.8" fill="rgba(0,0,0,0.5)" stroke="rgba(0,0,0,0.9)" stroke-width="1.1"/>
<ellipse cx="139.5" cy="930.8" rx="2.55" ry="1.8" fill="rgba(0,0,0,0.5)" stroke="rgba(0,0,0,0.9)" stroke-width="1.1"/>
<ellipse cx="120.2" cy="935.1" rx="2.55" ry="1.8" fill="rgba(0,0,0,0.5)" stroke="rgba(0,0,0,0.9)" stroke-width="1.1"/>
<ellipse cx="127.0" cy="935.1" rx="2.55" ry="1.8" fill="rgba(0,0,0,0.5)" stroke="rgba(0,0,0,0.9)" stroke-width="1.1"/>
<ellipse cx="137.6" cy="936.3" rx="2.55" ry="1.8" fill="rgba(0,0,0,0.5)" stroke="rgba(0,0,0,0.9)" stroke-width="1.1"/>
<ellipse cx="152.7" cy="936.8" rx="2.55" ry="1.8" fill="rgba(0,0,0,0.5)" stroke="rgba(0,0,0,0.9)" stroke-width="1.1"/>
<ellipse cx="144.8" cy="939.5" rx="2.55" ry="1.8" fill="rgba(0,0,0,0.5)" stroke="rgba(0,0,0,0.9)" stroke-width="1.1"/>
<ellipse cx="137.1" cy="944.0" rx="2.55" ry="1.8" fill="rgba(0,0,0,0.5)" stroke="rgba(0,0,0,0.9)" stroke-width="1.1"/>
<ellipse cx="143.8" cy="943.1" rx="2.55" ry="1.8" fill="rgba(0,0,0,0.5)" stroke="rgba(0,0,0,0.9)" stroke-width="1.1"/>
<ellipse cx="132.3" cy="950.8" rx="2.55" ry="1.8" fill="rgba(0,0,0,0.5)" stroke="rgba(0,0,0,0.9)" stroke-width="1.1"/>
<ellipse cx="135.4" cy="952.0" rx="2.55" ry="1.8" fill="rgba(0,0,0,0.5)" stroke="rgba(0,0,0,0.9)" stroke-width="1.1"/>
<ellipse cx="144.3" cy="958.0" rx="2.55" ry="1.8" fill="rgba(0,0,0,0.5)" stroke="rgba(0,0,0,0.9)" stroke-width="1.1"/>
<ellipse cx="141.9" cy="894.9" rx="2.55" ry="1.8" fill="rgba(0,0,0,0.5)" stroke="rgba(0,0,0,0.9)" stroke-width="1.1"/>
<ellipse cx="125.8" cy="919.5" rx="2.55" ry="1.8" fill="rgba(0,0,0,0.5)" stroke="rgba(0,0,0,0.9)" stroke-width="1.1"/>
<ellipse cx="138.5" cy="929.1" rx="2.55" ry="1.8" fill="rgba(0,0,0,0.5)" stroke="rgba(0,0,0,0.9)" stroke-width="1.1"/>
<ellipse cx="153.2" cy="936.3" rx="2.55" ry="1.8" fill="rgba(0,0,0,0.5)" stroke="rgba(0,0,0,0.9)" stroke-width="1.1"/>
<path d="M94.8,744 V758.6 M86,752.2 H105" stroke="#000" stroke-width="2" fill="none"/>
<path d="M115.8,925.8 L130.6,940.4 M115.8,940.4 L130.6,925.8" stroke="#000" stroke-width="1.9" fill="none"/>
<line x1="213.3" y1="790.7" x2="183.5" y2="778.8" stroke="#447fc4" stroke-width="1.35" opacity="0.9"/>
<line x1="213.3" y1="790.7" x2="294.4" y2="771" stroke="#447fc4" stroke-width="1.35" opacity="0.9"/>
<line x1="213.3" y1="790.7" x2="297.1" y2="774.3" stroke="#447fc4" stroke-width="1.35" opacity="0.9"/>
<line x1="213.3" y1="790.7" x2="302.4" y2="773" stroke="#447fc4" stroke-width="1.35" opacity="0.9"/>
<line x1="213.3" y1="790.7" x2="279.2" y2="785.9" stroke="#447fc4" stroke-width="1.35" opacity="0.9"/>
<line x1="213.3" y1="790.7" x2="274.5" y2="787.9" stroke="#447fc4" stroke-width="1.35" opacity="0.9"/>
<line x1="213.3" y1="790.7" x2="296.6" y2="798.1" stroke="#447fc4" stroke-width="1.35" opacity="0.9"/>
<line x1="213.3" y1="790.7" x2="307.7" y2="800.3" stroke="#447fc4" stroke-width="1.35" opacity="0.9"/>
<line x1="213.3" y1="790.7" x2="295.4" y2="804.1" stroke="#447fc4" stroke-width="1.35" opacity="0.9"/>
<line x1="213.3" y1="790.7" x2="118.4" y2="784.7" stroke="#447fc4" stroke-width="1.35" opacity="0.9"/>
<line x1="213.3" y1="790.7" x2="99.3" y2="797.4" stroke="#447fc4" stroke-width="1.35" opacity="0.9"/>
<line x1="213.3" y1="790.7" x2="97.6" y2="797.6" stroke="#447fc4" stroke-width="1.35" opacity="0.9"/>
<line x1="213.3" y1="790.7" x2="104.2" y2="799.3" stroke="#447fc4" stroke-width="1.35" opacity="0.9"/>
<line x1="213.3" y1="790.7" x2="134" y2="803.6" stroke="#447fc4" stroke-width="1.35" opacity="0.9"/>
<line x1="213.3" y1="790.7" x2="104.6" y2="808.7" stroke="#447fc4" stroke-width="1.35" opacity="0.9"/>
<ellipse cx="183.5" cy="778.8" rx="2.55" ry="1.8" fill="#8fb3de" stroke="#447fc4" stroke-width="1.1"/>
<ellipse cx="294.4" cy="771.0" rx="2.55" ry="1.8" fill="#8fb3de" stroke="#447fc4" stroke-width="1.1"/>
<ellipse cx="297.1" cy="774.3" rx="2.55" ry="1.8" fill="#8fb3de" stroke="#447fc4" stroke-width="1.1"/>
<ellipse cx="302.4" cy="773.0" rx="2.55" ry="1.8" fill="#8fb3de" stroke="#447fc4" stroke-width="1.1"/>
<ellipse cx="279.2" cy="785.9" rx="2.55" ry="1.8" fill="#8fb3de" stroke="#447fc4" stroke-width="1.1"/>
<ellipse cx="274.5" cy="787.9" rx="2.55" ry="1.8" fill="#8fb3de" stroke="#447fc4" stroke-width="1.1"/>
<ellipse cx="296.6" cy="798.1" rx="2.55" ry="1.8" fill="#8fb3de" stroke="#447fc4" stroke-width="1.1"/>
<ellipse cx="307.7" cy="800.3" rx="2.55" ry="1.8" fill="#8fb3de" stroke="#447fc4" stroke-width="1.1"/>
<ellipse cx="295.4" cy="804.1" rx="2.55" ry="1.8" fill="#8fb3de" stroke="#447fc4" stroke-width="1.1"/>
<ellipse cx="118.4" cy="784.7" rx="2.55" ry="1.8" fill="#8fb3de" stroke="#447fc4" stroke-width="1.1"/>
<ellipse cx="99.3" cy="797.4" rx="2.55" ry="1.8" fill="#8fb3de" stroke="#447fc4" stroke-width="1.1"/>
<ellipse cx="97.6" cy="797.6" rx="2.55" ry="1.8" fill="#8fb3de" stroke="#447fc4" stroke-width="1.1"/>
<ellipse cx="104.2" cy="799.3" rx="2.55" ry="1.8" fill="#8fb3de" stroke="#447fc4" stroke-width="1.1"/>
<ellipse cx="134.0" cy="803.6" rx="2.55" ry="1.8" fill="#8fb3de" stroke="#447fc4" stroke-width="1.1"/>
<ellipse cx="104.6" cy="808.7" rx="2.55" ry="1.8" fill="#8fb3de" stroke="#447fc4" stroke-width="1.1"/>
<line x1="186.9" y1="923.1" x2="147.9" y2="917.6" stroke="#9576c2" stroke-width="1.25" opacity="0.9"/>
<line x1="186.9" y1="923.1" x2="158.3" y2="926.2" stroke="#9576c2" stroke-width="1.25" opacity="0.9"/>
<line x1="186.9" y1="923.1" x2="141.9" y2="932.7" stroke="#9576c2" stroke-width="1.25" opacity="0.9"/>
<line x1="186.9" y1="923.1" x2="144.3" y2="938.7" stroke="#9576c2" stroke-width="1.25" opacity="0.9"/>
<line x1="186.9" y1="923.1" x2="147.9" y2="953.7" stroke="#9576c2" stroke-width="1.25" opacity="0.9"/>
<line x1="186.9" y1="923.1" x2="170.3" y2="945.3" stroke="#9576c2" stroke-width="1.25" opacity="0.9"/>
<line x1="186.9" y1="923.1" x2="172" y2="951.3" stroke="#9576c2" stroke-width="1.25" opacity="0.9"/>
<line x1="186.9" y1="923.1" x2="176.8" y2="952.5" stroke="#9576c2" stroke-width="1.25" opacity="0.9"/>
<line x1="186.9" y1="923.1" x2="190.1" y2="942.1" stroke="#9576c2" stroke-width="1.25" opacity="0.9"/>
<line x1="186.9" y1="923.1" x2="231.7" y2="928.4" stroke="#9576c2" stroke-width="1.25" opacity="0.9"/>
<line x1="186.9" y1="923.1" x2="214.2" y2="910.8" stroke="#9576c2" stroke-width="1.25" opacity="0.9"/>
<line x1="186.9" y1="923.1" x2="232.9" y2="883.1" stroke="#9576c2" stroke-width="1.25" opacity="0.9"/>
<line x1="186.9" y1="923.1" x2="239.4" y2="892.7" stroke="#9576c2" stroke-width="1.25" opacity="0.9"/>
<line x1="186.9" y1="923.1" x2="259.9" y2="857.6" stroke="#9576c2" stroke-width="1.25" opacity="0.9"/>
<ellipse cx="147.9" cy="917.6" rx="2.55" ry="1.8" fill="#b9a2d8" stroke="#9576c2" stroke-width="1.1"/>
<ellipse cx="158.3" cy="926.2" rx="2.55" ry="1.8" fill="#b9a2d8" stroke="#9576c2" stroke-width="1.1"/>
<ellipse cx="141.9" cy="932.7" rx="2.55" ry="1.8" fill="#b9a2d8" stroke="#9576c2" stroke-width="1.1"/>
<ellipse cx="144.3" cy="938.7" rx="2.55" ry="1.8" fill="#b9a2d8" stroke="#9576c2" stroke-width="1.1"/>
<ellipse cx="147.9" cy="953.7" rx="2.55" ry="1.8" fill="#b9a2d8" stroke="#9576c2" stroke-width="1.1"/>
<ellipse cx="170.3" cy="945.3" rx="2.55" ry="1.8" fill="#b9a2d8" stroke="#9576c2" stroke-width="1.1"/>
<ellipse cx="172.0" cy="951.3" rx="2.55" ry="1.8" fill="#b9a2d8" stroke="#9576c2" stroke-width="1.1"/>
<ellipse cx="176.8" cy="952.5" rx="2.55" ry="1.8" fill="#b9a2d8" stroke="#9576c2" stroke-width="1.1"/>
<ellipse cx="190.1" cy="942.1" rx="2.55" ry="1.8" fill="#b9a2d8" stroke="#9576c2" stroke-width="1.1"/>
<ellipse cx="231.7" cy="928.4" rx="2.55" ry="1.8" fill="#b9a2d8" stroke="#9576c2" stroke-width="1.1"/>
<ellipse cx="214.2" cy="910.8" rx="2.55" ry="1.8" fill="#b9a2d8" stroke="#9576c2" stroke-width="1.1"/>
<ellipse cx="232.9" cy="883.1" rx="2.55" ry="1.8" fill="#b9a2d8" stroke="#9576c2" stroke-width="1.1"/>
<ellipse cx="239.4" cy="892.7" rx="2.55" ry="1.8" fill="#b9a2d8" stroke="#9576c2" stroke-width="1.1"/>
<ellipse cx="259.9" cy="857.6" rx="2.55" ry="1.8" fill="#b9a2d8" stroke="#9576c2" stroke-width="1.1"/>
<line x1="245.5" y1="870.7" x2="252" y2="850.8" stroke="#ee4a52" stroke-width="1.25" opacity="0.9"/>
<line x1="245.5" y1="870.7" x2="252" y2="859.7" stroke="#ee4a52" stroke-width="1.25" opacity="0.9"/>
<line x1="245.5" y1="870.7" x2="232.9" y2="891.5" stroke="#ee4a52" stroke-width="1.25" opacity="0.9"/>
<line x1="245.5" y1="870.7" x2="238.7" y2="902.4" stroke="#ee4a52" stroke-width="1.25" opacity="0.9"/>
<line x1="245.5" y1="870.7" x2="250.3" y2="856" stroke="#ee4a52" stroke-width="1.25" opacity="0.9"/>
<ellipse cx="252.0" cy="850.8" rx="2.55" ry="1.8" fill="#f48a8f" stroke="#ee4a52" stroke-width="1.1"/>
<ellipse cx="252.0" cy="859.7" rx="2.55" ry="1.8" fill="#f48a8f" stroke="#ee4a52" stroke-width="1.1"/>
<ellipse cx="232.9" cy="891.5" rx="2.55" ry="1.8" fill="#f48a8f" stroke="#ee4a52" stroke-width="1.1"/>
<ellipse cx="238.7" cy="902.4" rx="2.55" ry="1.8" fill="#f48a8f" stroke="#ee4a52" stroke-width="1.1"/>
<ellipse cx="250.3" cy="856.0" rx="2.55" ry="1.8" fill="#f48a8f" stroke="#ee4a52" stroke-width="1.1"/>
<circle cx="213.3" cy="790.7" r="5.6" fill="#0b7ac2" stroke="#111" stroke-width="1.3"/>
<circle cx="186.9" cy="923.1" r="5.6" fill="#a43a9b" stroke="#111" stroke-width="1.3"/>
<circle cx="245.5" cy="870.7" r="5.6" fill="#eb2029" stroke="#111" stroke-width="1.3"/>
<rect x="67" y="728.2" width="252.6" height="249.3" fill="none" stroke="#5a5d5d" stroke-width="1.5"/>
<line x1="66.2" y1="977.5" x2="320.4" y2="977.5" stroke="#3a3f3f" stroke-width="2.2"/>
<line x1="64.2" y1="785.3" x2="67" y2="785.3" stroke="#333" stroke-width="1.1"/>
<text x="64.3" y="791.2" font-size="16" fill="#1c1a1b" font-weight="bold" stroke="#1c1a1b" stroke-width="0.3" text-anchor="end">0.2</text>
<line x1="64.2" y1="851.9" x2="67" y2="851.9" stroke="#333" stroke-width="1.1"/>
<text x="64.3" y="857.8" font-size="16" fill="#1c1a1b" font-weight="bold" stroke="#1c1a1b" stroke-width="0.3" text-anchor="end">0.0</text>
<line x1="64.2" y1="920.6" x2="67" y2="920.6" stroke="#333" stroke-width="1.1"/>
<text x="64.3" y="926.5" font-size="16" fill="#1c1a1b" font-weight="bold" stroke="#1c1a1b" stroke-width="0.3" text-anchor="end">−0.2</text>
<line x1="102.9" y1="977.8" x2="102.9" y2="980.6" stroke="#333" stroke-width="1.1"/>
<text x="97.4" y="993.5" font-size="16" fill="#1c1a1b" font-weight="bold" stroke="#1c1a1b" stroke-width="0.3" text-anchor="middle">−0.2</text>
<line x1="154.2" y1="977.8" x2="154.2" y2="980.6" stroke="#333" stroke-width="1.1"/>
<text x="153.7" y="993.5" font-size="16" fill="#1c1a1b" font-weight="bold" stroke="#1c1a1b" stroke-width="0.3" text-anchor="middle">0.0</text>
<line x1="204.5" y1="977.8" x2="204.5" y2="980.6" stroke="#333" stroke-width="1.1"/>
<text x="204.0" y="993.5" font-size="16" fill="#1c1a1b" font-weight="bold" stroke="#1c1a1b" stroke-width="0.3" text-anchor="middle">0.2</text>
<line x1="255.6" y1="977.8" x2="255.6" y2="980.6" stroke="#333" stroke-width="1.1"/>
<text x="255.1" y="993.5" font-size="16" fill="#1c1a1b" font-weight="bold" stroke="#1c1a1b" stroke-width="0.3" text-anchor="middle">0.4</text>
<line x1="306.4" y1="977.8" x2="306.4" y2="980.6" stroke="#333" stroke-width="1.1"/>
<text x="305.9" y="993.5" font-size="16" fill="#1c1a1b" font-weight="bold" stroke="#1c1a1b" stroke-width="0.3" text-anchor="middle">0.6</text>
<text x="135.1" y="1009.8" font-size="16.3" fill="#1c1a1b" font-weight="bold" stroke="#1c1a1b" stroke-width="0.3" textLength="104.3" lengthAdjust="spacingAndGlyphs">PCo1 (27.1%)</text>
<text transform="translate(29.7,866.9) rotate(-90)" font-size="16.3" font-weight="bold" fill="#1c1a1b" stroke="#1c1a1b" stroke-width="0.3" text-anchor="middle" textLength="104.5" lengthAdjust="spacingAndGlyphs">PCo2 (21.6%)</text>
<text x="331.6" y="805.9" font-size="16.5" fill="#1c1a1b" font-weight="bold" stroke="#1c1a1b" stroke-width="0.3" textLength="68.7" lengthAdjust="spacingAndGlyphs">Baseline</text>
<path d="M329.6,815.6 L347.8,833.8 M347.8,815.6 L329.6,833.8" stroke="#1c1a1b" stroke-width="3.5" stroke-linecap="round" fill="none"/>
<text x="353.4" y="831.7" font-size="24.5" fill="#1c1a1b" stroke="#1c1a1b" stroke-width="0.3" textLength="18" lengthAdjust="spacingAndGlyphs">A</text>
<path d="M326.3,850.4 H350 M338.1,838.8 V862" stroke="#1c1a1b" stroke-width="3.5" stroke-linecap="round" fill="none"/>
<text x="355.3" y="859.2" font-size="24.5" fill="#1c1a1b" stroke="#1c1a1b" stroke-width="0.3" textLength="15.6" lengthAdjust="spacingAndGlyphs">H</text>
<text x="331.6" y="891.6" font-size="16.5" fill="#1c1a1b" font-weight="bold" stroke="#1c1a1b" stroke-width="0.3" textLength="51.7" lengthAdjust="spacingAndGlyphs">Day 21</text>
<circle cx="338.4" cy="905.3" r="4.9" fill="#eb2029"/>
<text x="347.4" y="909.8" font-size="16.3" fill="#1c1a1b" stroke="#1c1a1b" stroke-width="0.3" textLength="22" lengthAdjust="spacingAndGlyphs">SR</text>
<circle cx="338.4" cy="921.9" r="4.9" fill="#a43a9b"/>
<text x="347.4" y="926.4" font-size="16.3" fill="#1c1a1b" stroke="#1c1a1b" stroke-width="0.3" textLength="50.3" lengthAdjust="spacingAndGlyphs">FMT-A</text>
<circle cx="338.4" cy="937.7" r="4.9" fill="#0b7ac2"/>
<text x="347.4" y="942.6" font-size="16.3" fill="#1c1a1b" stroke="#1c1a1b" stroke-width="0.3" textLength="50.3" lengthAdjust="spacingAndGlyphs">FMT-H</text>
</g>
<g id="panelE">
<text x="444.4" y="727.8" font-size="33" fill="#1c1a1b" class="pl">E</text>
<line x1="517" y1="825.3" x2="517" y2="838.3" stroke="#1c1a1b" stroke-width="2.9" stroke-linecap="round"/>
<rect x="501.7" y="788.8" width="31.7" height="36.5" fill="#fff" stroke="#1c1a1b" stroke-width="2.9" stroke-linejoin="round"/>
<line x1="501.7" y1="790.8" x2="533.4" y2="790.8" stroke="#1c1a1b" stroke-width="1.3"/>
<circle cx="514.8" cy="787.1" r="2.0" fill="#1c1a1b"/>
<circle cx="514.8" cy="791.1" r="2.0" fill="#1c1a1b"/>
<circle cx="514.8" cy="825.3" r="2.0" fill="#1c1a1b"/>
<circle cx="514.5" cy="838.5" r="2.0" fill="#1c1a1b"/>
<line x1="557.8" y1="762.3" x2="557.8" y2="764.3" stroke="#808b8d" stroke-width="2.9" stroke-linecap="round"/>
<line x1="557.8" y1="768.9" x2="557.8" y2="771" stroke="#808b8d" stroke-width="2.9" stroke-linecap="round"/>
<rect x="544.6" y="764.3" width="30.9" height="4.6" fill="#fff" stroke="#808b8d" stroke-width="2.9" stroke-linejoin="round"/>
<line x1="544.6" y1="766.6" x2="575.5" y2="766.6" stroke="#808b8d" stroke-width="1.3"/>
<circle cx="557.8" cy="762.3" r="2.0" fill="#808b8d"/>
<circle cx="557.8" cy="771.0" r="2.0" fill="#808b8d"/>
<line x1="602.6" y1="839.5" x2="602.6" y2="879.9" stroke="#1c1a1b" stroke-width="2.9" stroke-linecap="round"/>
<line x1="602.6" y1="926" x2="602.6" y2="972" stroke="#1c1a1b" stroke-width="2.9" stroke-linecap="round"/>
<rect x="587.2" y="879.9" width="31.3" height="46.1" fill="#fff" stroke="#1c1a1b" stroke-width="2.9" stroke-linejoin="round"/>
<line x1="587.2" y1="911.7" x2="618.5" y2="911.7" stroke="#1c1a1b" stroke-width="1.3"/>
<circle cx="600.8" cy="784.7" r="2.0" fill="#1c1a1b"/>
<circle cx="600.5" cy="839.2" r="2.0" fill="#1c1a1b"/>
<circle cx="600.5" cy="846.0" r="2.0" fill="#1c1a1b"/>
<circle cx="600.6" cy="880.5" r="2.0" fill="#1c1a1b"/>
<circle cx="600.6" cy="893.4" r="2.0" fill="#1c1a1b"/>
<circle cx="600.6" cy="905.2" r="2.0" fill="#1c1a1b"/>
<circle cx="600.6" cy="918.1" r="2.0" fill="#1c1a1b"/>
<circle cx="600.6" cy="925.5" r="2.0" fill="#1c1a1b"/>
<circle cx="600.6" cy="932.9" r="2.0" fill="#1c1a1b"/>
<circle cx="600.6" cy="950.2" r="2.0" fill="#1c1a1b"/>
<circle cx="600.6" cy="971.4" r="2.0" fill="#1c1a1b"/>
<line x1="645.6" y1="759" x2="645.6" y2="796" stroke="#808b8d" stroke-width="2.9" stroke-linecap="round"/>
<line x1="645.6" y1="836.5" x2="645.6" y2="850.5" stroke="#808b8d" stroke-width="2.9" stroke-linecap="round"/>
<rect x="630.5" y="796" width="31.1" height="40.5" fill="#fff" stroke="#808b8d" stroke-width="2.9" stroke-linejoin="round"/>
<line x1="630.5" y1="814.9" x2="661.6" y2="814.9" stroke="#808b8d" stroke-width="1.3"/>
<circle cx="643.5" cy="758.4" r="2.0" fill="#808b8d"/>
<circle cx="643.5" cy="788.6" r="2.0" fill="#808b8d"/>
<circle cx="643.5" cy="803.2" r="2.0" fill="#808b8d"/>
<circle cx="643.5" cy="807.1" r="2.0" fill="#808b8d"/>
<circle cx="643.5" cy="814.9" r="2.0" fill="#808b8d"/>
<circle cx="643.5" cy="822.3" r="2.0" fill="#808b8d"/>
<circle cx="643.5" cy="840.2" r="2.0" fill="#808b8d"/>
<circle cx="643.5" cy="845.1" r="2.0" fill="#808b8d"/>
<circle cx="643.5" cy="850.0" r="2.0" fill="#808b8d"/>
<circle cx="642.8" cy="826.6" r="1.0" fill="#808b8d"/>
<line x1="688.8" y1="767.5" x2="688.8" y2="778.5" stroke="#1c1a1b" stroke-width="2.9" stroke-linecap="round"/>
<line x1="688.8" y1="880.3" x2="688.8" y2="901.2" stroke="#1c1a1b" stroke-width="2.9" stroke-linecap="round"/>
<rect x="673.7" y="778.5" width="30.9" height="101.8" fill="#fff" stroke="#1c1a1b" stroke-width="2.9" stroke-linejoin="round"/>
<line x1="673.7" y1="789.6" x2="704.6" y2="789.6" stroke="#1c1a1b" stroke-width="1.3"/>
<circle cx="686.8" cy="767.2" r="2.0" fill="#1c1a1b"/>
<circle cx="686.8" cy="774.0" r="2.0" fill="#1c1a1b"/>
<circle cx="686.8" cy="778.9" r="2.0" fill="#1c1a1b"/>
<circle cx="686.8" cy="782.8" r="2.0" fill="#1c1a1b"/>
<circle cx="686.8" cy="790.0" r="2.0" fill="#1c1a1b"/>
<circle cx="686.8" cy="856.4" r="2.0" fill="#1c1a1b"/>
<circle cx="686.8" cy="872.7" r="2.0" fill="#1c1a1b"/>
<circle cx="686.8" cy="878.2" r="2.0" fill="#1c1a1b"/>
<circle cx="686.8" cy="886.0" r="2.0" fill="#1c1a1b"/>
<circle cx="686.8" cy="872.5" r="2.0" fill="#1c1a1b"/>
<circle cx="686.8" cy="878.9" r="2.0" fill="#1c1a1b"/>
<circle cx="686.8" cy="886.0" r="2.0" fill="#1c1a1b"/>
<circle cx="686.8" cy="898.2" r="2.0" fill="#1c1a1b"/>
<circle cx="686.8" cy="901.4" r="2.0" fill="#1c1a1b"/>
<line x1="730.6" y1="760.8" x2="730.6" y2="767.6" stroke="#808b8d" stroke-width="2.9" stroke-linecap="round"/>
<line x1="730.6" y1="935.5" x2="730.6" y2="965" stroke="#808b8d" stroke-width="2.9" stroke-linecap="round"/>
<rect x="716.8" y="767.6" width="30.8" height="167.9" fill="#fff" stroke="#808b8d" stroke-width="2.9" stroke-linejoin="round"/>
<line x1="716.8" y1="774.4" x2="747.6" y2="774.4" stroke="#808b8d" stroke-width="1.3"/>
<circle cx="729.6" cy="762.3" r="2.0" fill="#808b8d"/>
<circle cx="729.6" cy="767.2" r="2.0" fill="#808b8d"/>
<circle cx="729.6" cy="774.6" r="2.0" fill="#808b8d"/>
<circle cx="729.6" cy="887.9" r="2.0" fill="#808b8d"/>
<circle cx="730.0" cy="887.9" r="2.0" fill="#808b8d"/>
<circle cx="730.0" cy="905.2" r="2.0" fill="#808b8d"/>
<circle cx="730.0" cy="936.7" r="2.0" fill="#808b8d"/>
<circle cx="730.0" cy="964.0" r="2.0" fill="#808b8d"/>
<path d="M491.3,725.4 V985.8 H758" fill="none" stroke="#1c1a1b" stroke-width="1.8"/>
<line x1="488.6" y1="740.7" x2="490.6" y2="740.7" stroke="#667" stroke-width="1.2"/>
<text x="486.3" y="744.5" font-size="16.2" fill="#1c1a1b" font-weight="bold" stroke="#1c1a1b" stroke-width="0.3" text-anchor="end">1.0</text>
<line x1="488.6" y1="811.8" x2="490.6" y2="811.8" stroke="#667" stroke-width="1.2"/>
<text x="486.3" y="815.6" font-size="16.2" fill="#1c1a1b" font-weight="bold" stroke="#1c1a1b" stroke-width="0.3" text-anchor="end">0.8</text>
<line x1="488.6" y1="882.9" x2="490.6" y2="882.9" stroke="#667" stroke-width="1.2"/>
<text x="486.3" y="886.7" font-size="16.2" fill="#1c1a1b" font-weight="bold" stroke="#1c1a1b" stroke-width="0.3" text-anchor="end">0.6</text>
<line x1="488.6" y1="954" x2="490.6" y2="954" stroke="#667" stroke-width="1.2"/>
<text x="486.3" y="957.8" font-size="16.2" fill="#1c1a1b" font-weight="bold" stroke="#1c1a1b" stroke-width="0.3" text-anchor="end">0.4</text>
<text transform="translate(461.3,862.1) rotate(-90)" font-size="16.4" font-weight="bold" fill="#1c1a1b" text-anchor="middle" textLength="206" lengthAdjust="spacingAndGlyphs">Bray−Curties Dissimilarity</text>
<path d="M516.6,754.8 V747.8 H560.4 V754.8" fill="none" stroke="#1c1a1b" stroke-width="2.6" stroke-linecap="round" stroke-linejoin="round"/>
<path d="M603,754.4 V747.4 H646.2 V754.4" fill="none" stroke="#1c1a1b" stroke-width="2.6" stroke-linecap="round" stroke-linejoin="round"/>
<path d="M688.7,754.8 V747.8 H732.3 V754.8" fill="none" stroke="#1c1a1b" stroke-width="2.6" stroke-linecap="round" stroke-linejoin="round"/>
<text x="538.3" y="740.3" font-size="16.5" fill="#1c1a1b" stroke="#1c1a1b" stroke-width="0.3" text-anchor="middle" textLength="12.8" lengthAdjust="spacingAndGlyphs">**</text>
<text x="623.9" y="740.3" font-size="16.5" fill="#1c1a1b" stroke="#1c1a1b" stroke-width="0.3" text-anchor="middle" textLength="19.6" lengthAdjust="spacingAndGlyphs">***</text>
<text x="695.7" y="740.9" font-size="17.6" fill="#1c1a1b" stroke="#1c1a1b" stroke-width="0.3" textLength="28.4" lengthAdjust="spacingAndGlyphs">NS.</text>
<line x1="513.2" y1="990.3" x2="562" y2="990.3" stroke="#1c1a1b" stroke-width="1.6"/>
<text x="535.8" y="1003.6" font-size="12.8" fill="#1c1a1b" text-anchor="middle" textLength="17" lengthAdjust="spacingAndGlyphs">SR</text>
<line x1="599.6" y1="990.3" x2="648.7" y2="990.3" stroke="#1c1a1b" stroke-width="1.6"/>
<text x="622.4" y="1003.6" font-size="12.8" fill="#1c1a1b" text-anchor="middle" textLength="38.9" lengthAdjust="spacingAndGlyphs">FMT-A</text>
<line x1="686.6" y1="990.3" x2="735.5" y2="990.3" stroke="#1c1a1b" stroke-width="1.6"/>
<text x="710.5" y="1003.6" font-size="12.8" fill="#1c1a1b" text-anchor="middle" textLength="38.9" lengthAdjust="spacingAndGlyphs">FMT-H</text>
<text x="504.2" y="942.0" font-size="13.3" fill="#1c1a1b" textLength="51.2" lengthAdjust="spacingAndGlyphs">To donor</text>
<rect x="503.9" y="949.0" width="11.6" height="11.2" fill="#f4f4f4"/>
<line x1="509.8" y1="949.7" x2="509.8" y2="959.5" stroke="#1c1a1b" stroke-width="2" stroke-linecap="round"/>
<rect x="504.6" y="950.8000000000001" width="10.4" height="7.6" rx="0.8" fill="#1c1a1b"/>
<path d="M508.5,953.3000000000001 H513.6 M508.5,955.9 H513.6" stroke="#fff" stroke-width="0.9" opacity="0.85" fill="none"/>
<text x="517.0" y="958.6" font-size="12.4" fill="#1c1a1b" textLength="44.2" lengthAdjust="spacingAndGlyphs">A donor</text>
<rect x="503.9" y="960.8" width="11.6" height="11.2" fill="#f4f4f4"/>
<line x1="509.8" y1="961.5" x2="509.8" y2="971.3" stroke="#808b8d" stroke-width="2" stroke-linecap="round"/>
<rect x="504.6" y="962.6" width="10.4" height="7.6" rx="0.8" fill="#808b8d"/>
<path d="M508.5,965.1 H513.6 M508.5,967.6999999999999 H513.6" stroke="#fff" stroke-width="0.9" opacity="0.85" fill="none"/>
<text x="517.0" y="970.1" font-size="12.4" fill="#1c1a1b" textLength="44.2" lengthAdjust="spacingAndGlyphs">H donor</text>
</g>
<g id="panelF">
<text x="798.2" y="728.2" font-size="33" fill="#1c1a1b" textLength="18.6" lengthAdjust="spacingAndGlyphs" class="pl">F</text>
<circle cx="850.1" cy="737.7" r="1.3" fill="#e8252d"/>
<circle cx="850.1" cy="746.8" r="1.3" fill="#a345a2"/>
<circle cx="850.6" cy="751.3" r="1.3" fill="#1479bb"/>
<circle cx="850.6" cy="763.2" r="1.3" fill="#1479bb"/>
<circle cx="849.6" cy="775.8" r="1.3" fill="#e8252d"/>
<circle cx="850.4" cy="781.9" r="1.3" fill="#1479bb"/>
<circle cx="850.1" cy="786.1" r="1.3" fill="#e8252d"/>
<circle cx="850.1" cy="790.2" r="1.3" fill="#e8252d"/>
<circle cx="850.1" cy="794.4" r="1.3" fill="#e8252d"/>
<circle cx="850.1" cy="799.3" r="1.3" fill="#e8252d"/>
<circle cx="850.1" cy="815.9" r="1.3" fill="#a345a2"/>
<circle cx="850.1" cy="835.7" r="1.3" fill="#a345a2"/>
<circle cx="850.1" cy="839.0" r="1.3" fill="#e8252d"/>
<circle cx="850.1" cy="850.6" r="1.3" fill="#a345a2"/>
<circle cx="850.1" cy="860.6" r="1.3" fill="#a345a2"/>
<circle cx="863.2" cy="748.3" r="1.3" fill="#1479bb"/>
<circle cx="863.2" cy="751.3" r="1.3" fill="#1479bb"/>
<circle cx="863.2" cy="754.6" r="1.3" fill="#1479bb"/>
<circle cx="863.2" cy="757.9" r="1.3" fill="#1479bb"/>
<circle cx="862.8" cy="753.8" r="1.3" fill="#a345a2"/>
<circle cx="863.2" cy="766.2" r="1.3" fill="#1479bb"/>
<circle cx="863.2" cy="771.2" r="1.3" fill="#1479bb"/>
<circle cx="863.2" cy="776.1" r="1.3" fill="#1479bb"/>
<circle cx="863.2" cy="779.5" r="1.3" fill="#1479bb"/>
<circle cx="863.2" cy="783.6" r="1.3" fill="#1479bb"/>
<circle cx="863.2" cy="791.9" r="1.3" fill="#1479bb"/>
<circle cx="862.8" cy="801.8" r="1.3" fill="#a345a2"/>
<circle cx="862.8" cy="833.3" r="1.3" fill="#a345a2"/>
<circle cx="862.8" cy="835.7" r="1.3" fill="#a345a2"/>
<circle cx="862.5" cy="839.0" r="1.3" fill="#a345a2"/>
<circle cx="862.5" cy="853.9" r="1.3" fill="#a345a2"/>
<circle cx="862.5" cy="860.6" r="1.3" fill="#a345a2"/>
<circle cx="875.3" cy="748.8" r="1.3" fill="#e8252d"/>
<circle cx="875.6" cy="752.1" r="1.3" fill="#1479bb"/>
<circle cx="875.6" cy="754.6" r="1.3" fill="#1479bb"/>
<circle cx="875.6" cy="765.4" r="1.3" fill="#a345a2"/>
<circle cx="875.6" cy="767.9" r="1.3" fill="#a345a2"/>
<circle cx="875.6" cy="775.3" r="1.3" fill="#a345a2"/>
<circle cx="875.6" cy="783.6" r="1.3" fill="#a345a2"/>
<circle cx="875.6" cy="793.5" r="1.3" fill="#a345a2"/>
<circle cx="875.6" cy="796.8" r="1.3" fill="#a345a2"/>
<circle cx="875.6" cy="807.3" r="1.3" fill="#1479bb"/>
<circle cx="876.1" cy="824.2" r="1.3" fill="#1479bb"/>
<circle cx="875.6" cy="834.1" r="1.3" fill="#1479bb"/>
<circle cx="876.1" cy="849.0" r="1.3" fill="#1479bb"/>
<circle cx="876.1" cy="851.5" r="1.3" fill="#1479bb"/>
<circle cx="876.1" cy="853.9" r="1.3" fill="#1479bb"/>
<circle cx="905.4" cy="749.7" r="1.3" fill="#1479bb"/>
<circle cx="905.4" cy="751.3" r="1.3" fill="#1479bb"/>
<circle cx="905.4" cy="757.1" r="1.3" fill="#1479bb"/>
<circle cx="905.4" cy="762.9" r="1.3" fill="#1479bb"/>
<circle cx="904.6" cy="766.2" r="1.3" fill="#e8252d"/>
<circle cx="904.6" cy="767.9" r="1.3" fill="#a345a2"/>
<circle cx="905.4" cy="771.2" r="1.3" fill="#1479bb"/>
<circle cx="905.4" cy="775.3" r="1.3" fill="#1479bb"/>
<circle cx="905.4" cy="781.1" r="1.3" fill="#1479bb"/>
<circle cx="904.6" cy="784.4" r="1.3" fill="#e8252d"/>
<circle cx="904.6" cy="779.5" r="1.3" fill="#e8252d"/>
<circle cx="905.0" cy="797.7" r="1.3" fill="#a345a2"/>
<circle cx="905.0" cy="817.5" r="1.3" fill="#a345a2"/>
<circle cx="905.4" cy="834.9" r="1.3" fill="#1479bb"/>
<circle cx="905.4" cy="837.4" r="1.3" fill="#1479bb"/>
<circle cx="905.4" cy="840.7" r="1.3" fill="#1479bb"/>
<circle cx="905.4" cy="844.0" r="1.3" fill="#1479bb"/>
<circle cx="905.4" cy="847.3" r="1.3" fill="#1479bb"/>
<circle cx="905.4" cy="863.9" r="1.3" fill="#1479bb"/>
<circle cx="905.4" cy="865.5" r="1.3" fill="#1479bb"/>
<circle cx="934.8" cy="755.5" r="1.3" fill="#1479bb"/>
<circle cx="934.8" cy="757.1" r="1.3" fill="#1479bb"/>
<circle cx="934.8" cy="761.2" r="1.3" fill="#1479bb"/>
<circle cx="934.8" cy="763.7" r="1.3" fill="#1479bb"/>
<circle cx="934.8" cy="767.0" r="1.3" fill="#1479bb"/>
<circle cx="934.8" cy="769.5" r="1.3" fill="#1479bb"/>
<circle cx="934.3" cy="772.8" r="1.3" fill="#a345a2"/>
<circle cx="934.8" cy="776.1" r="1.3" fill="#1479bb"/>
<circle cx="934.3" cy="778.6" r="1.3" fill="#e8252d"/>
<circle cx="934.3" cy="775.3" r="1.3" fill="#e8252d"/>
<circle cx="934.3" cy="810.9" r="1.3" fill="#e8252d"/>
<circle cx="934.3" cy="822.5" r="1.3" fill="#e8252d"/>
<circle cx="934.8" cy="828.3" r="1.3" fill="#a345a2"/>
<circle cx="935.2" cy="839.5" r="1.3" fill="#1479bb"/>
<circle cx="935.2" cy="853.9" r="1.3" fill="#1479bb"/>
<circle cx="935.2" cy="859.7" r="1.3" fill="#1479bb"/>
<circle cx="935.2" cy="863.9" r="1.3" fill="#1479bb"/>
<circle cx="935.2" cy="866.4" r="1.3" fill="#1479bb"/>
<circle cx="846.0" cy="881.0" r="1.3" fill="#a345a2"/>
<circle cx="845.2" cy="885.7" r="1.3" fill="#e8252d"/>
<circle cx="846.0" cy="895.2" r="1.3" fill="#a345a2"/>
<circle cx="846.0" cy="900.0" r="1.3" fill="#1479bb"/>
<circle cx="845.5" cy="910.7" r="1.3" fill="#a345a2"/>
<circle cx="845.2" cy="916.4" r="1.3" fill="#e8252d"/>
<circle cx="846.0" cy="922.4" r="1.3" fill="#a345a2"/>
<circle cx="846.0" cy="905.2" r="1.3" fill="#1479bb"/>
<circle cx="846.0" cy="927.6" r="1.3" fill="#1479bb"/>
<circle cx="844.8" cy="935.3" r="1.3" fill="#e8252d"/>
<circle cx="846.0" cy="945.2" r="1.3" fill="#1479bb"/>
<circle cx="845.2" cy="946.9" r="1.3" fill="#e8252d"/>
<circle cx="846.4" cy="950.0" r="1.3" fill="#1479bb"/>
<circle cx="846.0" cy="954.3" r="1.3" fill="#1479bb"/>
<circle cx="846.0" cy="958.6" r="1.3" fill="#1479bb"/>
<circle cx="846.0" cy="962.9" r="1.3" fill="#a345a2"/>
<circle cx="845.5" cy="967.6" r="1.3" fill="#a345a2"/>
<circle cx="845.7" cy="975.3" r="1.3" fill="#a345a2"/>
<circle cx="846.4" cy="962.1" r="1.3" fill="#1479bb"/>
<circle cx="862.8" cy="853.1" r="1.3" fill="#a345a2"/>
<circle cx="862.8" cy="860.9" r="1.3" fill="#a345a2"/>
<circle cx="862.8" cy="903.4" r="1.3" fill="#a345a2"/>
<circle cx="875.7" cy="851.7" r="1.3" fill="#1479bb"/>
<circle cx="875.7" cy="853.4" r="1.3" fill="#1479bb"/>
<circle cx="875.7" cy="884.5" r="1.3" fill="#a345a2"/>
<circle cx="875.7" cy="896.2" r="1.3" fill="#a345a2"/>
<circle cx="875.7" cy="899.1" r="1.3" fill="#a345a2"/>
<circle cx="875.7" cy="911.6" r="1.3" fill="#a345a2"/>
<circle cx="875.7" cy="919.8" r="1.3" fill="#a345a2"/>
<circle cx="875.3" cy="921.0" r="1.3" fill="#a345a2"/>
<circle cx="905.2" cy="863.8" r="1.3" fill="#1479bb"/>
<circle cx="905.2" cy="866.4" r="1.3" fill="#1479bb"/>
<circle cx="905.2" cy="885.9" r="1.3" fill="#a345a2"/>
<circle cx="905.2" cy="890.9" r="1.3" fill="#a345a2"/>
<circle cx="905.2" cy="892.6" r="1.3" fill="#a345a2"/>
<circle cx="905.2" cy="896.9" r="1.3" fill="#a345a2"/>
<circle cx="905.2" cy="920.7" r="1.3" fill="#a345a2"/>
<circle cx="904.7" cy="921.9" r="1.3" fill="#a345a2"/>
<circle cx="905.2" cy="933.1" r="1.3" fill="#a345a2"/>
<circle cx="934.8" cy="854.3" r="1.3" fill="#1479bb"/>
<circle cx="934.8" cy="859.5" r="1.3" fill="#1479bb"/>
<circle cx="934.8" cy="862.1" r="1.3" fill="#a345a2"/>
<circle cx="934.8" cy="867.2" r="1.3" fill="#1479bb"/>
<circle cx="934.8" cy="874.1" r="1.3" fill="#a345a2"/>
<circle cx="934.8" cy="881.9" r="1.3" fill="#1479bb"/>
<circle cx="934.8" cy="884.5" r="1.3" fill="#a345a2"/>
<circle cx="934.8" cy="896.6" r="1.3" fill="#a345a2"/>
<circle cx="934.8" cy="902.6" r="1.3" fill="#a345a2"/>
<circle cx="934.8" cy="904.8" r="1.3" fill="#a345a2"/>
<circle cx="934.8" cy="910.0" r="1.3" fill="#a345a2"/>
<circle cx="934.8" cy="926.2" r="1.3" fill="#a345a2"/>
<circle cx="934.8" cy="946.6" r="1.3" fill="#a345a2"/>
<circle cx="963.7" cy="763.4" r="1.3" fill="#e8252d"/>
<circle cx="963.7" cy="771.5" r="1.3" fill="#e8252d"/>
<circle cx="964.3" cy="773.4" r="1.3" fill="#1479bb"/>
<circle cx="964.3" cy="778.7" r="1.3" fill="#1479bb"/>
<circle cx="964.3" cy="792.7" r="1.3" fill="#1479bb"/>
<circle cx="964.0" cy="807.3" r="1.3" fill="#e8252d"/>
<circle cx="964.0" cy="823.4" r="1.3" fill="#e8252d"/>
<circle cx="964.3" cy="834.5" r="1.3" fill="#1479bb"/>
<circle cx="964.3" cy="849.5" r="1.3" fill="#1479bb"/>
<circle cx="964.3" cy="866.1" r="1.3" fill="#a345a2"/>
<circle cx="993.3" cy="770.9" r="1.3" fill="#e8252d"/>
<circle cx="993.8" cy="784.8" r="1.3" fill="#1479bb"/>
<circle cx="993.8" cy="787.8" r="1.3" fill="#1479bb"/>
<circle cx="993.3" cy="794.1" r="1.3" fill="#e8252d"/>
<circle cx="993.3" cy="798.9" r="1.3" fill="#e8252d"/>
<circle cx="993.5" cy="818.4" r="1.3" fill="#a345a2"/>
<circle cx="993.8" cy="829.2" r="1.3" fill="#1479bb"/>
<circle cx="993.3" cy="840.4" r="1.3" fill="#e8252d"/>
<circle cx="993.8" cy="861.0" r="1.3" fill="#1479bb"/>
<circle cx="1023.3" cy="787.3" r="1.3" fill="#1479bb"/>
<circle cx="1023.3" cy="791.9" r="1.3" fill="#1479bb"/>
<circle cx="1022.8" cy="805.2" r="1.3" fill="#e8252d"/>
<circle cx="1022.8" cy="813.9" r="1.3" fill="#e8252d"/>
<circle cx="1023.6" cy="815.9" r="1.3" fill="#1479bb"/>
<circle cx="1022.8" cy="849.9" r="1.3" fill="#e8252d"/>
<circle cx="1023.3" cy="857.0" r="1.3" fill="#1479bb"/>
<circle cx="1023.3" cy="858.6" r="1.3" fill="#a345a2"/>
<circle cx="1022.8" cy="868.9" r="1.3" fill="#e8252d"/>
<circle cx="1052.6" cy="833.8" r="1.3" fill="#1479bb"/>
<circle cx="1052.3" cy="836.6" r="1.3" fill="#e8252d"/>
<circle cx="1052.3" cy="839.1" r="1.3" fill="#e8252d"/>
<circle cx="1052.6" cy="846.6" r="1.3" fill="#e8252d"/>
<circle cx="1052.6" cy="854.0" r="1.3" fill="#1479bb"/>
<circle cx="1052.3" cy="868.9" r="1.3" fill="#e8252d"/>
<circle cx="1081.9" cy="827.5" r="1.3" fill="#e8252d"/>
<circle cx="1082.1" cy="842.7" r="1.3" fill="#a345a2"/>
<circle cx="1082.1" cy="849.0" r="1.3" fill="#e8252d"/>
<circle cx="1082.4" cy="861.0" r="1.3" fill="#1479bb"/>
<circle cx="1082.4" cy="868.9" r="1.3" fill="#1479bb"/>
<circle cx="964.1" cy="866.4" r="1.3" fill="#a345a2"/>
<circle cx="964.1" cy="872.4" r="1.3" fill="#a345a2"/>
<circle cx="964.1" cy="900.9" r="1.3" fill="#a345a2"/>
<circle cx="994.0" cy="861.2" r="1.3" fill="#1479bb"/>
<circle cx="993.8" cy="881.4" r="1.3" fill="#a345a2"/>
<circle cx="993.8" cy="887.9" r="1.3" fill="#a345a2"/>
<circle cx="993.8" cy="916.4" r="1.3" fill="#a345a2"/>
<circle cx="1022.7" cy="850.9" r="1.3" fill="#e8252d"/>
<circle cx="1023.3" cy="857.2" r="1.3" fill="#1479bb"/>
<circle cx="1023.3" cy="858.6" r="1.3" fill="#a345a2"/>
<circle cx="1023.3" cy="869.3" r="1.3" fill="#e8252d"/>
<circle cx="1023.3" cy="878.4" r="1.3" fill="#a345a2"/>
<circle cx="1023.6" cy="885.0" r="1.3" fill="#1479bb"/>
<circle cx="1023.3" cy="916.4" r="1.3" fill="#a345a2"/>
<circle cx="1023.3" cy="925.8" r="1.3" fill="#a345a2"/>
<circle cx="1052.9" cy="853.8" r="1.3" fill="#1479bb"/>
<circle cx="1052.0" cy="869.3" r="1.3" fill="#e8252d"/>
<circle cx="1052.9" cy="871.0" r="1.3" fill="#1479bb"/>
<circle cx="1052.9" cy="880.2" r="1.3" fill="#1479bb"/>
<circle cx="1052.6" cy="883.6" r="1.3" fill="#a345a2"/>
<circle cx="1052.6" cy="916.4" r="1.3" fill="#a345a2"/>
<circle cx="1052.6" cy="919.8" r="1.3" fill="#a345a2"/>
<circle cx="1082.6" cy="861.2" r="1.3" fill="#1479bb"/>
<circle cx="1082.6" cy="869.0" r="1.3" fill="#1479bb"/>
<circle cx="1081.7" cy="871.5" r="1.3" fill="#e8252d"/>
<circle cx="1082.6" cy="881.9" r="1.3" fill="#1479bb"/>
<circle cx="1082.6" cy="892.2" r="1.3" fill="#1479bb"/>
<circle cx="1082.2" cy="895.7" r="1.3" fill="#a345a2"/>
<circle cx="1082.2" cy="914.6" r="1.3" fill="#a345a2"/>
<path d="M846.7,938.5 L850.8,807.6 L863.3,807.6 L876.1,836.6 L905.6,854.8 L935.3,877.6 L964.9,853.3 L994.4,875.9 L1023.9,894.5 L1053.3,906.9 L1082.7,884.5" fill="none" stroke="#a345a2" stroke-width="3.6" stroke-linejoin="miter" stroke-miterlimit="3"/>
<path d="M846.7,937.5 L850.8,786.1 L863.3,751.6 L876.1,752.6 L905.6,776.1 L935.3,791.9 L964.9,800.2 L994.4,808.5 L1023.9,837.1 L1053.3,844.9 L1082.7,858.0" fill="none" stroke="#e8252d" stroke-width="3.6" stroke-linejoin="miter" stroke-miterlimit="3"/>
<path d="M846.7,937.5 L850.8,805.9 L863.3,768.7 L876.1,793.5 L905.6,800.1 L935.3,810.9 L964.9,805.7 L994.4,809.3 L1023.9,827.2 L1053.3,859.9 L1082.7,877.6" fill="none" stroke="#1479bb" stroke-width="3.6" stroke-linejoin="miter" stroke-miterlimit="3"/>
<path d="M835.1,725.6 V986.3 H1095.6" fill="none" stroke="#1c1a1b" stroke-width="2"/>
<line x1="832" y1="741.0" x2="834.2" y2="741.0" stroke="#667" stroke-width="1.2"/>
<text x="831.2" y="744.3" font-size="15.8" fill="#1c1a1b" font-weight="bold" stroke="#1c1a1b" stroke-width="0.3" text-anchor="end">1.0</text>
<line x1="832" y1="801.8" x2="834.2" y2="801.8" stroke="#667" stroke-width="1.2"/>
<text x="831.2" y="805.1" font-size="15.8" fill="#1c1a1b" font-weight="bold" stroke="#1c1a1b" stroke-width="0.3" text-anchor="end">0.8</text>
<line x1="832" y1="867.9" x2="834.2" y2="867.9" stroke="#667" stroke-width="1.2"/>
<text x="831.2" y="871.2" font-size="15.8" fill="#1c1a1b" font-weight="bold" stroke="#1c1a1b" stroke-width="0.3" text-anchor="end">0.6</text>
<line x1="832" y1="933.9" x2="834.2" y2="933.9" stroke="#667" stroke-width="1.2"/>
<text x="831.2" y="937.2" font-size="15.8" fill="#1c1a1b" font-weight="bold" stroke="#1c1a1b" stroke-width="0.3" text-anchor="end">0.4</text>
<line x1="846.7" y1="983.4" x2="846.7" y2="990.2" stroke="#3e4646" stroke-width="1.4"/>
<line x1="850.8" y1="983.4" x2="850.8" y2="990.2" stroke="#3e4646" stroke-width="1.4"/>
<line x1="863.3" y1="983.4" x2="863.3" y2="990.2" stroke="#3e4646" stroke-width="1.4"/>
<line x1="876.1" y1="983.4" x2="876.1" y2="990.2" stroke="#3e4646" stroke-width="1.4"/>
<line x1="905.6" y1="983.4" x2="905.6" y2="990.2" stroke="#3e4646" stroke-width="1.4"/>
<line x1="935.3" y1="983.4" x2="935.3" y2="990.2" stroke="#3e4646" stroke-width="1.4"/>
<line x1="964.9" y1="983.4" x2="964.9" y2="990.2" stroke="#3e4646" stroke-width="1.4"/>
<line x1="994.4" y1="983.4" x2="994.4" y2="990.2" stroke="#3e4646" stroke-width="1.4"/>
<line x1="1023.9" y1="983.4" x2="1023.9" y2="990.2" stroke="#3e4646" stroke-width="1.4"/>
<line x1="1053.3" y1="983.4" x2="1053.3" y2="990.2" stroke="#3e4646" stroke-width="1.4"/>
<line x1="1082.7" y1="983.4" x2="1082.7" y2="990.2" stroke="#3e4646" stroke-width="1.4"/>
<text x="845.4" y="1004.5" font-size="15.6" fill="#1c1a1b" font-weight="bold" stroke="#1c1a1b" stroke-width="0.3" text-anchor="middle">0</text>
<text x="853.6" y="1004.5" font-size="15.6" fill="#1c1a1b" font-weight="bold" stroke="#1c1a1b" stroke-width="0.3" text-anchor="middle">1</text>
<text x="863.6" y="1004.5" font-size="15.6" fill="#1c1a1b" font-weight="bold" stroke="#1c1a1b" stroke-width="0.3" text-anchor="middle">4</text>
<text x="876.5" y="1004.5" font-size="15.6" fill="#1c1a1b" font-weight="bold" stroke="#1c1a1b" stroke-width="0.3" text-anchor="middle">7</text>
<text x="908.2" y="1004.5" font-size="15.6" fill="#1c1a1b" font-weight="bold" stroke="#1c1a1b" stroke-width="0.3" text-anchor="middle">14</text>
<text x="937.9" y="1004.5" font-size="15.6" fill="#1c1a1b" font-weight="bold" stroke="#1c1a1b" stroke-width="0.3" text-anchor="middle">21</text>
<text x="967.5" y="1004.5" font-size="15.6" fill="#1c1a1b" font-weight="bold" stroke="#1c1a1b" stroke-width="0.3" text-anchor="middle">28</text>
<text x="997.0" y="1004.5" font-size="15.6" fill="#1c1a1b" font-weight="bold" stroke="#1c1a1b" stroke-width="0.3" text-anchor="middle">35</text>
<text x="1026.5" y="1004.5" font-size="15.6" fill="#1c1a1b" font-weight="bold" stroke="#1c1a1b" stroke-width="0.3" text-anchor="middle">42</text>
<text x="1055.9" y="1004.5" font-size="15.6" fill="#1c1a1b" font-weight="bold" stroke="#1c1a1b" stroke-width="0.3" text-anchor="middle">49</text>
<text x="1085.3" y="1004.5" font-size="15.6" fill="#1c1a1b" font-weight="bold" stroke="#1c1a1b" stroke-width="0.3" text-anchor="middle">56</text>
<text x="944.4" y="1018.8" font-size="16.4" fill="#1c1a1b" font-weight="bold" stroke="#1c1a1b" stroke-width="0.3" textLength="30.6" lengthAdjust="spacingAndGlyphs">Day</text>
<text transform="translate(802.4,849.8) rotate(-90)" font-size="15.6" font-weight="bold" fill="#1c1a1b" text-anchor="middle" textLength="182" lengthAdjust="spacingAndGlyphs">Bray-Curtis Dissimilarity</text>
<text x="1036.9" y="735.9" font-size="12.3" fill="#1c1a1b" font-weight="bold" stroke="#1c1a1b" stroke-width="0.3" textLength="59.2" lengthAdjust="spacingAndGlyphs">Treatment</text>
<rect x="1037.7" y="749.2" width="11.6" height="5.9" fill="#e8262d"/>
<text x="1057.4" y="755.5" font-size="12.3" fill="#1c1a1b" font-weight="bold" stroke="#1c1a1b" stroke-width="0.3" textLength="16.2" lengthAdjust="spacingAndGlyphs">SR</text>
<rect x="1037.7" y="765.0" width="11.6" height="5.9" fill="#9f54a5"/>
<text x="1057.4" y="770.9" font-size="12.3" fill="#1c1a1b" font-weight="bold" stroke="#1c1a1b" stroke-width="0.3" textLength="38.1" lengthAdjust="spacingAndGlyphs">FMT-A</text>
<rect x="1037.7" y="780.4" width="11.6" height="5.9" fill="#1d7eb0"/>
<text x="1057.4" y="786.4" font-size="12.3" fill="#1c1a1b" font-weight="bold" stroke="#1c1a1b" stroke-width="0.3" textLength="38.1" lengthAdjust="spacingAndGlyphs">FMT-H</text>
</g>
</svg>
</body></html>
